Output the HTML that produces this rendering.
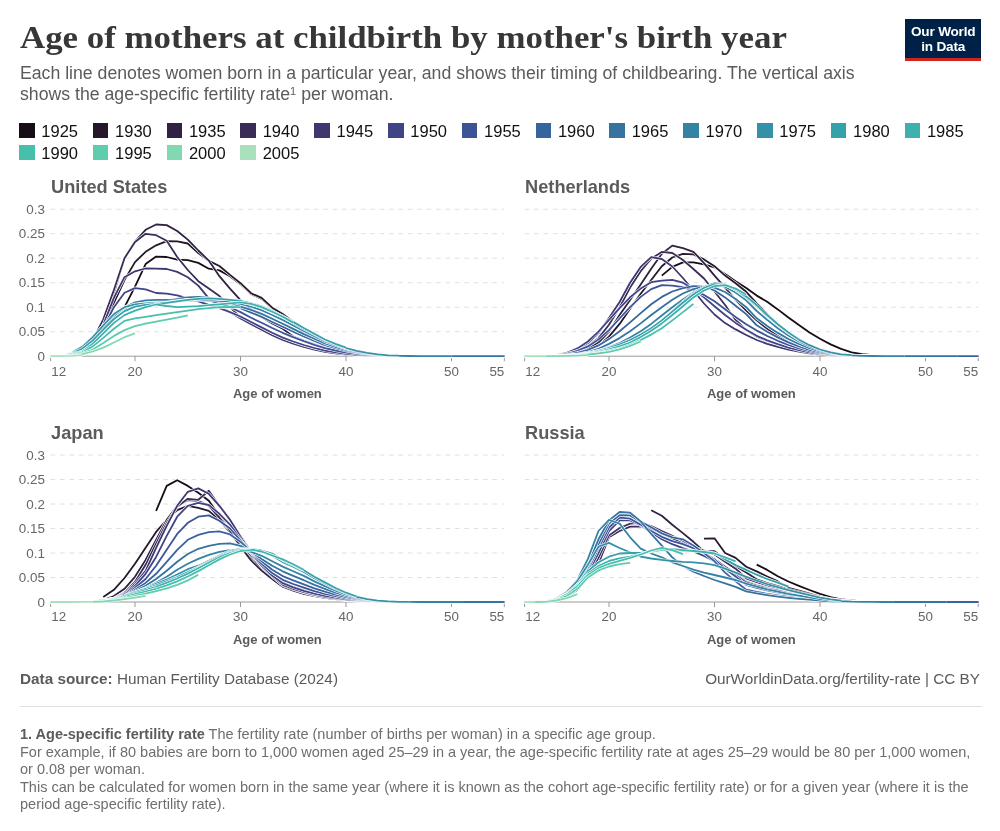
<!DOCTYPE html>
<html><head><meta charset="utf-8"><title>Age of mothers at childbirth by mother's birth year</title>
<style>
html,body{margin:0;padding:0;background:#fff;}
body{width:1000px;height:831px;position:relative;overflow:hidden;font-family:"Liberation Sans",Arial,sans-serif;}
.abs{position:absolute;white-space:nowrap;}
#title{left:20px;top:17.5px;font-family:"Liberation Serif",Georgia,serif;font-weight:bold;font-size:30.5px;line-height:40px;color:#373737;transform-origin:0 0;transform:scaleX(1.143);letter-spacing:0px}
#sub{left:20px;top:62.5px;font-size:17.68px;line-height:21.3px;color:#5b5b5b;white-space:normal;width:900px}
#sub sup{font-size:11px;line-height:0;vertical-align:baseline;position:relative;top:-5px}
#logo{left:905px;top:19.4px;width:76.4px;height:39px;background:#002147;border-bottom:3px solid #ce261e;color:#fff;font-weight:bold;font-size:13.6px;line-height:14.2px;text-align:center;letter-spacing:-0.2px}
#logo div{margin-top:6px}
.leg{font-size:16.5px;color:#111;line-height:16px}
.leg i{position:absolute;left:-22.3px;top:0.4px;width:15.6px;height:15px;display:block}
#src{left:20px;top:670px;font-size:15.3px;color:#5b5b5b;line-height:18px}
#url{right:20px;top:670px;font-size:15.3px;color:#5b5b5b;line-height:18px}
#rule{left:20px;top:706px;width:962px;height:1px;background:#e0e0e0}
#notes{left:20px;top:726.3px;font-size:14.5px;line-height:17.4px;color:#6e6e6e;white-space:normal;width:970px}
#notes b{color:#5b5b5b}
svg{position:absolute;left:0;top:0}
svg text{font-family:"Liberation Sans",Arial,sans-serif}
.ft{font-size:18.2px;font-weight:bold;fill:#5b5b5b}
.tk{font-size:13.4px;fill:#666}
.al{font-size:13px;font-weight:bold;fill:#5b5b5b}
</style></head><body>
<div class="abs" id="title">Age of mothers at childbirth by mother's birth year</div>
<div class="abs" id="sub">Each line denotes women born in a particular year, and shows their timing of childbearing. The vertical axis<br>shows the age-specific fertility rate<sup>1</sup> per woman.</div>
<div class="abs" id="logo"><div>Our World<br>in Data</div></div>
<div class="abs leg" style="left:41.3px;top:122.5px"><i style="background:#180d16"></i>1925</div>
<div class="abs leg" style="left:115.1px;top:122.5px"><i style="background:#26172b"></i>1930</div>
<div class="abs leg" style="left:188.9px;top:122.5px"><i style="background:#312142"></i>1935</div>
<div class="abs leg" style="left:262.7px;top:122.5px"><i style="background:#3a2c58"></i>1940</div>
<div class="abs leg" style="left:336.5px;top:122.5px"><i style="background:#3f3770"></i>1945</div>
<div class="abs leg" style="left:410.3px;top:122.5px"><i style="background:#414387"></i>1950</div>
<div class="abs leg" style="left:484.1px;top:122.5px"><i style="background:#3c5397"></i>1955</div>
<div class="abs leg" style="left:557.9px;top:122.5px"><i style="background:#37649e"></i>1960</div>
<div class="abs leg" style="left:631.7px;top:122.5px"><i style="background:#3573a1"></i>1965</div>
<div class="abs leg" style="left:705.5px;top:122.5px"><i style="background:#3483a5"></i>1970</div>
<div class="abs leg" style="left:779.3px;top:122.5px"><i style="background:#3491a8"></i>1975</div>
<div class="abs leg" style="left:853.1px;top:122.5px"><i style="background:#35a1ab"></i>1980</div>
<div class="abs leg" style="left:926.9px;top:122.5px"><i style="background:#3cb1ad"></i>1985</div>
<div class="abs leg" style="left:41.3px;top:144.5px"><i style="background:#47bfad"></i>1990</div>
<div class="abs leg" style="left:115.1px;top:144.5px"><i style="background:#5ecdad"></i>1995</div>
<div class="abs leg" style="left:188.9px;top:144.5px"><i style="background:#82d8b0"></i>2000</div>
<div class="abs leg" style="left:262.7px;top:144.5px"><i style="background:#a9e1bd"></i>2005</div>
<svg width="1000" height="831" viewBox="0 0 1000 831">
<text class="ft" x="51.1" y="192.8">United States</text>
<line x1="50.6" x2="504.3" y1="331.7" y2="331.7" stroke="#e0e0e0" stroke-width="1" stroke-dasharray="4.7,4.7"/>
<line x1="50.6" x2="504.3" y1="307.2" y2="307.2" stroke="#e0e0e0" stroke-width="1" stroke-dasharray="4.7,4.7"/>
<line x1="50.6" x2="504.3" y1="282.7" y2="282.7" stroke="#e0e0e0" stroke-width="1" stroke-dasharray="4.7,4.7"/>
<line x1="50.6" x2="504.3" y1="258.2" y2="258.2" stroke="#e0e0e0" stroke-width="1" stroke-dasharray="4.7,4.7"/>
<line x1="50.6" x2="504.3" y1="233.7" y2="233.7" stroke="#e0e0e0" stroke-width="1" stroke-dasharray="4.7,4.7"/>
<line x1="50.6" x2="504.3" y1="209.2" y2="209.2" stroke="#e0e0e0" stroke-width="1" stroke-dasharray="4.7,4.7"/>
<text class="tk" x="44.9" y="360.7" text-anchor="end">0</text>
<text class="tk" x="44.9" y="336.2" text-anchor="end">0.05</text>
<text class="tk" x="44.9" y="311.7" text-anchor="end">0.1</text>
<text class="tk" x="44.9" y="287.2" text-anchor="end">0.15</text>
<text class="tk" x="44.9" y="262.7" text-anchor="end">0.2</text>
<text class="tk" x="44.9" y="238.2" text-anchor="end">0.25</text>
<text class="tk" x="44.9" y="213.7" text-anchor="end">0.3</text>
<line x1="50.6" x2="504.3" y1="356.2" y2="356.2" stroke="#999" stroke-width="1"/>
<line x1="50.6" x2="50.6" y1="356.2" y2="361.2" stroke="#999" stroke-width="1"/>
<text class="tk" x="51.2" y="375.5" text-anchor="start">12</text>
<line x1="135.0" x2="135.0" y1="356.2" y2="361.2" stroke="#999" stroke-width="1"/>
<text class="tk" x="135.0" y="375.5" text-anchor="middle">20</text>
<line x1="240.5" x2="240.5" y1="356.2" y2="361.2" stroke="#999" stroke-width="1"/>
<text class="tk" x="240.5" y="375.5" text-anchor="middle">30</text>
<line x1="346.0" x2="346.0" y1="356.2" y2="361.2" stroke="#999" stroke-width="1"/>
<text class="tk" x="346.0" y="375.5" text-anchor="middle">40</text>
<line x1="451.5" x2="451.5" y1="356.2" y2="361.2" stroke="#999" stroke-width="1"/>
<text class="tk" x="451.5" y="375.5" text-anchor="middle">50</text>
<line x1="504.3" x2="504.3" y1="356.2" y2="361.2" stroke="#999" stroke-width="1"/>
<text class="tk" x="504.3" y="375.5" text-anchor="end">55</text>
<text class="al" x="277.4" y="398.2" text-anchor="middle">Age of women</text>
<path d="M124.5,307.2 L135.0,286.6 L145.6,264.1 L156.1,256.6 L166.7,257.0 L177.2,259.7 L187.8,260.2 L198.3,262.9 L208.8,268.7 L219.4,270.4 L230.0,276.3 L240.5,284.2 L251.1,294.0 L261.6,298.9 L272.2,308.2 L282.7,314.5 L293.2,321.4 L303.8,331.4 L314.4,336.5 L324.9,341.7 L335.5,345.6 L346.0,348.9 L356.6,351.4 L367.1,353.2 L377.7,354.5 L388.2,355.4 L398.8,355.8 L409.3,356.0 L419.9,356.2 L430.4,356.2 L441.0,356.2 L451.5,356.2 L462.1,356.2 L472.6,356.2 L483.2,356.2 L493.7,356.2 L504.3,356.2" fill="none" stroke="#fff" stroke-width="3" stroke-linejoin="round" stroke-linecap="butt"/>
<path d="M124.5,307.2 L135.0,286.6 L145.6,264.1 L156.1,256.6 L166.7,257.0 L177.2,259.7 L187.8,260.2 L198.3,262.9 L208.8,268.7 L219.4,270.4 L230.0,276.3 L240.5,284.2 L251.1,294.0 L261.6,298.9 L272.2,308.2 L282.7,314.5 L293.2,321.4 L303.8,331.4 L314.4,336.5 L324.9,341.7 L335.5,345.6 L346.0,348.9 L356.6,351.4 L367.1,353.2 L377.7,354.5 L388.2,355.4 L398.8,355.8 L409.3,356.0 L419.9,356.2 L430.4,356.2 L441.0,356.2 L451.5,356.2 L462.1,356.2 L472.6,356.2 L483.2,356.2 L493.7,356.2 L504.3,356.2" fill="none" stroke="#180d16" stroke-width="1.8" stroke-linejoin="round" stroke-linecap="butt"/>
<path d="M71.7,355.2 L82.2,351.8 L92.8,343.0 L103.3,326.8 L113.9,303.0 L124.5,280.0 L135.0,262.1 L145.6,251.8 L156.1,245.3 L166.7,241.1 L177.2,241.4 L187.8,243.5 L198.3,253.1 L208.8,260.9 L219.4,266.0 L230.0,274.9 L240.5,283.2 L251.1,293.2 L261.6,297.9 L272.2,307.7 L282.7,314.1 L293.2,321.7 L303.8,333.3 L314.4,338.1 L324.9,343.0 L335.5,346.6 L346.0,349.6 L356.6,351.9 L367.1,353.5 L377.7,354.7 L388.2,355.5 L398.8,355.8 L409.3,356.1 L419.9,356.2 L430.4,356.2 L441.0,356.2 L451.5,356.2 L462.1,356.2 L472.6,356.2 L483.2,356.2 L493.7,356.2 L504.3,356.2" fill="none" stroke="#fff" stroke-width="3" stroke-linejoin="round" stroke-linecap="butt"/>
<path d="M71.7,355.2 L82.2,351.8 L92.8,343.0 L103.3,326.8 L113.9,303.0 L124.5,280.0 L135.0,262.1 L145.6,251.8 L156.1,245.3 L166.7,241.1 L177.2,241.4 L187.8,243.5 L198.3,253.1 L208.8,260.9 L219.4,266.0 L230.0,274.9 L240.5,283.2 L251.1,293.2 L261.6,297.9 L272.2,307.7 L282.7,314.1 L293.2,321.7 L303.8,333.3 L314.4,338.1 L324.9,343.0 L335.5,346.6 L346.0,349.6 L356.6,351.9 L367.1,353.5 L377.7,354.7 L388.2,355.5 L398.8,355.8 L409.3,356.1 L419.9,356.2 L430.4,356.2 L441.0,356.2 L451.5,356.2 L462.1,356.2 L472.6,356.2 L483.2,356.2 L493.7,356.2 L504.3,356.2" fill="none" stroke="#26172b" stroke-width="1.8" stroke-linejoin="round" stroke-linecap="butt"/>
<path d="M50.6,356.2 L61.2,356.0 L71.7,354.7 L82.2,351.0 L92.8,340.5 L103.3,320.9 L113.9,293.0 L124.5,258.2 L135.0,241.5 L145.6,229.8 L156.1,224.5 L166.7,225.1 L177.2,231.0 L187.8,239.6 L198.3,250.5 L208.8,260.6 L219.4,276.2 L230.0,288.6 L240.5,300.2 L251.1,309.6 L261.6,317.0 L272.2,323.4 L282.7,328.8 L293.2,336.5 L303.8,340.7 L314.4,344.4 L324.9,347.7 L335.5,350.2 L346.0,352.3 L356.6,353.7 L367.1,354.7 L377.7,355.4 L388.2,355.8 L398.8,356.0 L409.3,356.1 L419.9,356.2 L430.4,356.2 L441.0,356.2 L451.5,356.2 L462.1,356.2 L472.6,356.2 L483.2,356.2 L493.7,356.2 L504.3,356.2" fill="none" stroke="#fff" stroke-width="3" stroke-linejoin="round" stroke-linecap="butt"/>
<path d="M50.6,356.2 L61.2,356.0 L71.7,354.7 L82.2,351.0 L92.8,340.5 L103.3,320.9 L113.9,293.0 L124.5,258.2 L135.0,241.5 L145.6,229.8 L156.1,224.5 L166.7,225.1 L177.2,231.0 L187.8,239.6 L198.3,250.5 L208.8,260.6 L219.4,276.2 L230.0,288.6 L240.5,300.2 L251.1,309.6 L261.6,317.0 L272.2,323.4 L282.7,328.8 L293.2,336.5 L303.8,340.7 L314.4,344.4 L324.9,347.7 L335.5,350.2 L346.0,352.3 L356.6,353.7 L367.1,354.7 L377.7,355.4 L388.2,355.8 L398.8,356.0 L409.3,356.1 L419.9,356.2 L430.4,356.2 L441.0,356.2 L451.5,356.2 L462.1,356.2 L472.6,356.2 L483.2,356.2 L493.7,356.2 L504.3,356.2" fill="none" stroke="#312142" stroke-width="1.8" stroke-linejoin="round" stroke-linecap="butt"/>
<path d="M50.6,356.2 L61.2,356.0 L71.7,354.7 L82.2,350.8 L92.8,340.0 L103.3,319.4 L113.9,290.0 L124.5,258.2 L135.0,242.0 L145.6,233.8 L156.1,235.2 L166.7,240.8 L177.2,257.0 L187.8,270.0 L198.3,281.2 L208.8,288.6 L219.4,296.0 L230.0,307.2 L240.5,317.6 L251.1,323.4 L261.6,328.8 L272.2,333.7 L282.7,337.6 L293.2,341.5 L303.8,345.0 L314.4,348.0 L324.9,350.6 L335.5,352.3 L346.0,353.9 L356.6,354.8 L367.1,355.4 L377.7,355.8 L388.2,356.0 L398.8,356.2 L409.3,356.2 L419.9,356.2 L430.4,356.2 L441.0,356.2 L451.5,356.2 L462.1,356.2 L472.6,356.2 L483.2,356.2 L493.7,356.2 L504.3,356.2" fill="none" stroke="#fff" stroke-width="3" stroke-linejoin="round" stroke-linecap="butt"/>
<path d="M50.6,356.2 L61.2,356.0 L71.7,354.7 L82.2,350.8 L92.8,340.0 L103.3,319.4 L113.9,290.0 L124.5,258.2 L135.0,242.0 L145.6,233.8 L156.1,235.2 L166.7,240.8 L177.2,257.0 L187.8,270.0 L198.3,281.2 L208.8,288.6 L219.4,296.0 L230.0,307.2 L240.5,317.6 L251.1,323.4 L261.6,328.8 L272.2,333.7 L282.7,337.6 L293.2,341.5 L303.8,345.0 L314.4,348.0 L324.9,350.6 L335.5,352.3 L346.0,353.9 L356.6,354.8 L367.1,355.4 L377.7,355.8 L388.2,356.0 L398.8,356.2 L409.3,356.2 L419.9,356.2 L430.4,356.2 L441.0,356.2 L451.5,356.2 L462.1,356.2 L472.6,356.2 L483.2,356.2 L493.7,356.2 L504.3,356.2" fill="none" stroke="#3a2c58" stroke-width="1.8" stroke-linejoin="round" stroke-linecap="butt"/>
<path d="M50.6,356.2 L61.2,356.0 L71.7,354.7 L82.2,351.3 L92.8,342.5 L103.3,324.8 L113.9,297.9 L124.5,277.2 L135.0,271.3 L145.6,268.5 L156.1,268.7 L166.7,269.0 L177.2,271.9 L187.8,277.2 L198.3,285.6 L208.8,298.4 L219.4,306.2 L230.0,312.1 L240.5,318.5 L251.1,324.1 L261.6,329.7 L272.2,335.2 L282.7,340.0 L293.2,343.7 L303.8,346.9 L314.4,349.6 L324.9,351.8 L335.5,353.3 L346.0,354.6 L356.6,355.2 L367.1,355.7 L377.7,356.0 L388.2,356.1 L398.8,356.2 L409.3,356.2 L419.9,356.2 L430.4,356.2 L441.0,356.2 L451.5,356.2 L462.1,356.2 L472.6,356.2 L483.2,356.2 L493.7,356.2 L504.3,356.2" fill="none" stroke="#fff" stroke-width="3" stroke-linejoin="round" stroke-linecap="butt"/>
<path d="M50.6,356.2 L61.2,356.0 L71.7,354.7 L82.2,351.3 L92.8,342.5 L103.3,324.8 L113.9,297.9 L124.5,277.2 L135.0,271.3 L145.6,268.5 L156.1,268.7 L166.7,269.0 L177.2,271.9 L187.8,277.2 L198.3,285.6 L208.8,298.4 L219.4,306.2 L230.0,312.1 L240.5,318.5 L251.1,324.1 L261.6,329.7 L272.2,335.2 L282.7,340.0 L293.2,343.7 L303.8,346.9 L314.4,349.6 L324.9,351.8 L335.5,353.3 L346.0,354.6 L356.6,355.2 L367.1,355.7 L377.7,356.0 L388.2,356.1 L398.8,356.2 L409.3,356.2 L419.9,356.2 L430.4,356.2 L441.0,356.2 L451.5,356.2 L462.1,356.2 L472.6,356.2 L483.2,356.2 L493.7,356.2 L504.3,356.2" fill="none" stroke="#3f3770" stroke-width="1.8" stroke-linejoin="round" stroke-linecap="butt"/>
<path d="M50.6,356.2 L61.2,356.0 L71.7,354.7 L82.2,351.3 L92.8,343.0 L103.3,328.0 L113.9,307.2 L124.5,292.7 L135.0,288.1 L145.6,289.4 L156.1,293.0 L166.7,293.6 L177.2,295.4 L187.8,298.4 L198.3,301.3 L208.8,304.8 L219.4,308.2 L230.0,312.1 L240.5,316.5 L251.1,322.0 L261.6,327.4 L272.2,332.8 L282.7,337.6 L293.2,341.5 L303.8,345.0 L314.4,348.0 L324.9,350.6 L335.5,352.3 L346.0,353.9 L356.6,354.8 L367.1,355.4 L377.7,355.8 L388.2,356.0 L398.8,356.2 L409.3,356.2 L419.9,356.2 L430.4,356.2 L441.0,356.2 L451.5,356.2 L462.1,356.2 L472.6,356.2 L483.2,356.2 L493.7,356.2 L504.3,356.2" fill="none" stroke="#fff" stroke-width="3" stroke-linejoin="round" stroke-linecap="butt"/>
<path d="M50.6,356.2 L61.2,356.0 L71.7,354.7 L82.2,351.3 L92.8,343.0 L103.3,328.0 L113.9,307.2 L124.5,292.7 L135.0,288.1 L145.6,289.4 L156.1,293.0 L166.7,293.6 L177.2,295.4 L187.8,298.4 L198.3,301.3 L208.8,304.8 L219.4,308.2 L230.0,312.1 L240.5,316.5 L251.1,322.0 L261.6,327.4 L272.2,332.8 L282.7,337.6 L293.2,341.5 L303.8,345.0 L314.4,348.0 L324.9,350.6 L335.5,352.3 L346.0,353.9 L356.6,354.8 L367.1,355.4 L377.7,355.8 L388.2,356.0 L398.8,356.2 L409.3,356.2 L419.9,356.2 L430.4,356.2 L441.0,356.2 L451.5,356.2 L462.1,356.2 L472.6,356.2 L483.2,356.2 L493.7,356.2 L504.3,356.2" fill="none" stroke="#414387" stroke-width="1.8" stroke-linejoin="round" stroke-linecap="butt"/>
<path d="M50.6,356.2 L61.2,356.0 L71.7,353.3 L82.2,347.9 L92.8,337.6 L103.3,325.8 L113.9,314.1 L124.5,307.2 L135.0,303.8 L145.6,301.8 L156.1,300.8 L166.7,300.3 L177.2,299.4 L187.8,298.4 L198.3,298.9 L208.8,300.3 L219.4,303.3 L230.0,307.2 L240.5,312.1 L251.1,317.8 L261.6,322.7 L272.2,328.0 L282.7,332.8 L293.2,337.2 L303.8,341.2 L314.4,344.8 L324.9,348.1 L335.5,350.5 L346.0,352.5 L356.6,353.8 L367.1,354.8 L377.7,355.4 L388.2,355.8 L398.8,356.1 L409.3,356.1 L419.9,356.2 L430.4,356.2 L441.0,356.2 L451.5,356.2 L462.1,356.2 L472.6,356.2 L483.2,356.2 L493.7,356.2 L504.3,356.2" fill="none" stroke="#fff" stroke-width="3" stroke-linejoin="round" stroke-linecap="butt"/>
<path d="M50.6,356.2 L61.2,356.0 L71.7,353.3 L82.2,347.9 L92.8,337.6 L103.3,325.8 L113.9,314.1 L124.5,307.2 L135.0,303.8 L145.6,301.8 L156.1,300.8 L166.7,300.3 L177.2,299.4 L187.8,298.4 L198.3,298.9 L208.8,300.3 L219.4,303.3 L230.0,307.2 L240.5,312.1 L251.1,317.8 L261.6,322.7 L272.2,328.0 L282.7,332.8 L293.2,337.2 L303.8,341.2 L314.4,344.8 L324.9,348.1 L335.5,350.5 L346.0,352.5 L356.6,353.8 L367.1,354.8 L377.7,355.4 L388.2,355.8 L398.8,356.1 L409.3,356.1 L419.9,356.2 L430.4,356.2 L441.0,356.2 L451.5,356.2 L462.1,356.2 L472.6,356.2 L483.2,356.2 L493.7,356.2 L504.3,356.2" fill="none" stroke="#3c5397" stroke-width="1.8" stroke-linejoin="round" stroke-linecap="butt"/>
<path d="M50.6,356.2 L61.2,356.0 L71.7,353.3 L82.2,348.4 L92.8,339.5 L103.3,328.3 L113.9,317.0 L124.5,309.2 L135.0,304.3 L145.6,302.3 L156.1,301.3 L166.7,300.8 L177.2,300.3 L187.8,299.4 L198.3,299.4 L208.8,299.8 L219.4,301.3 L230.0,303.8 L240.5,308.2 L251.1,312.6 L261.6,316.9 L272.2,322.0 L282.7,326.8 L293.2,331.7 L303.8,336.5 L314.4,340.8 L324.9,345.1 L335.5,348.1 L346.0,350.8 L356.6,352.7 L367.1,354.0 L377.7,355.0 L388.2,355.6 L398.8,355.9 L409.3,356.1 L419.9,356.2 L430.4,356.2 L441.0,356.2 L451.5,356.2 L462.1,356.2 L472.6,356.2 L483.2,356.2 L493.7,356.2 L504.3,356.2" fill="none" stroke="#fff" stroke-width="3" stroke-linejoin="round" stroke-linecap="butt"/>
<path d="M50.6,356.2 L61.2,356.0 L71.7,353.3 L82.2,348.4 L92.8,339.5 L103.3,328.3 L113.9,317.0 L124.5,309.2 L135.0,304.3 L145.6,302.3 L156.1,301.3 L166.7,300.8 L177.2,300.3 L187.8,299.4 L198.3,299.4 L208.8,299.8 L219.4,301.3 L230.0,303.8 L240.5,308.2 L251.1,312.6 L261.6,316.9 L272.2,322.0 L282.7,326.8 L293.2,331.7 L303.8,336.5 L314.4,340.8 L324.9,345.1 L335.5,348.1 L346.0,350.8 L356.6,352.7 L367.1,354.0 L377.7,355.0 L388.2,355.6 L398.8,355.9 L409.3,356.1 L419.9,356.2 L430.4,356.2 L441.0,356.2 L451.5,356.2 L462.1,356.2 L472.6,356.2 L483.2,356.2 L493.7,356.2 L504.3,356.2" fill="none" stroke="#37649e" stroke-width="1.8" stroke-linejoin="round" stroke-linecap="butt"/>
<path d="M50.6,356.2 L61.2,356.0 L71.7,353.3 L82.2,348.8 L92.8,340.5 L103.3,330.2 L113.9,319.4 L124.5,311.1 L135.0,306.2 L145.6,303.3 L156.1,301.8 L166.7,300.3 L177.2,298.9 L187.8,297.4 L198.3,296.9 L208.8,297.9 L219.4,299.8 L230.0,302.8 L240.5,306.7 L251.1,309.9 L261.6,313.9 L272.2,318.8 L282.7,323.7 L293.2,328.9 L303.8,334.1 L314.4,338.8 L324.9,343.5 L335.5,346.9 L346.0,349.9 L356.6,352.1 L367.1,353.6 L377.7,354.8 L388.2,355.5 L398.8,355.9 L409.3,356.1 L419.9,356.2 L430.4,356.2 L441.0,356.2 L451.5,356.2 L462.1,356.2 L472.6,356.2 L483.2,356.2 L493.7,356.2 L504.3,356.2" fill="none" stroke="#fff" stroke-width="3" stroke-linejoin="round" stroke-linecap="butt"/>
<path d="M50.6,356.2 L61.2,356.0 L71.7,353.3 L82.2,348.8 L92.8,340.5 L103.3,330.2 L113.9,319.4 L124.5,311.1 L135.0,306.2 L145.6,303.3 L156.1,301.8 L166.7,300.3 L177.2,298.9 L187.8,297.4 L198.3,296.9 L208.8,297.9 L219.4,299.8 L230.0,302.8 L240.5,306.7 L251.1,309.9 L261.6,313.9 L272.2,318.8 L282.7,323.7 L293.2,328.9 L303.8,334.1 L314.4,338.8 L324.9,343.5 L335.5,346.9 L346.0,349.9 L356.6,352.1 L367.1,353.6 L377.7,354.8 L388.2,355.5 L398.8,355.9 L409.3,356.1 L419.9,356.2 L430.4,356.2 L441.0,356.2 L451.5,356.2 L462.1,356.2 L472.6,356.2 L483.2,356.2 L493.7,356.2 L504.3,356.2" fill="none" stroke="#3573a1" stroke-width="1.8" stroke-linejoin="round" stroke-linecap="butt"/>
<path d="M50.6,356.2 L61.2,356.0 L71.7,352.8 L82.2,347.9 L92.8,339.1 L103.3,327.8 L113.9,316.0 L124.5,307.2 L135.0,302.3 L145.6,300.3 L156.1,299.8 L166.7,299.8 L177.2,300.3 L187.8,300.3 L198.3,300.3 L208.8,300.3 L219.4,300.8 L230.0,301.8 L240.5,303.8 L251.1,306.6 L261.6,310.1 L272.2,315.0 L282.7,319.9 L293.2,325.4 L303.8,331.0 L314.4,336.2 L324.9,341.5 L335.5,345.4 L346.0,348.7 L356.6,351.3 L367.1,353.2 L377.7,354.5 L388.2,355.4 L398.8,355.8 L409.3,356.0 L419.9,356.2 L430.4,356.2 L441.0,356.2 L451.5,356.2" fill="none" stroke="#fff" stroke-width="3" stroke-linejoin="round" stroke-linecap="butt"/>
<path d="M50.6,356.2 L61.2,356.0 L71.7,352.8 L82.2,347.9 L92.8,339.1 L103.3,327.8 L113.9,316.0 L124.5,307.2 L135.0,302.3 L145.6,300.3 L156.1,299.8 L166.7,299.8 L177.2,300.3 L187.8,300.3 L198.3,300.3 L208.8,300.3 L219.4,300.8 L230.0,301.8 L240.5,303.8 L251.1,306.6 L261.6,310.1 L272.2,315.0 L282.7,319.9 L293.2,325.4 L303.8,331.0 L314.4,336.2 L324.9,341.5 L335.5,345.4 L346.0,348.7 L356.6,351.3 L367.1,353.2 L377.7,354.5 L388.2,355.4 L398.8,355.8 L409.3,356.0 L419.9,356.2 L430.4,356.2 L441.0,356.2 L451.5,356.2" fill="none" stroke="#3483a5" stroke-width="1.8" stroke-linejoin="round" stroke-linecap="butt"/>
<path d="M50.6,356.2 L61.2,356.0 L71.7,352.8 L82.2,346.9 L92.8,337.1 L103.3,325.3 L113.9,314.1 L124.5,307.2 L135.0,304.3 L145.6,303.3 L156.1,302.8 L166.7,302.3 L177.2,301.3 L187.8,299.8 L198.3,298.9 L208.8,298.4 L219.4,298.9 L230.0,299.8 L240.5,301.8 L251.1,304.3 L261.6,307.6 L272.2,312.3 L282.7,317.2 L293.2,323.0 L303.8,329.0 L314.4,334.5 L324.9,340.2 L335.5,344.4 L346.0,348.0 L356.6,350.8 L367.1,352.8 L377.7,354.3 L388.2,355.3 L398.8,355.7" fill="none" stroke="#fff" stroke-width="3" stroke-linejoin="round" stroke-linecap="butt"/>
<path d="M50.6,356.2 L61.2,356.0 L71.7,352.8 L82.2,346.9 L92.8,337.1 L103.3,325.3 L113.9,314.1 L124.5,307.2 L135.0,304.3 L145.6,303.3 L156.1,302.8 L166.7,302.3 L177.2,301.3 L187.8,299.8 L198.3,298.9 L208.8,298.4 L219.4,298.9 L230.0,299.8 L240.5,301.8 L251.1,304.3 L261.6,307.6 L272.2,312.3 L282.7,317.2 L293.2,323.0 L303.8,329.0 L314.4,334.5 L324.9,340.2 L335.5,344.4 L346.0,348.0 L356.6,350.8 L367.1,352.8 L377.7,354.3 L388.2,355.3 L398.8,355.7" fill="none" stroke="#3491a8" stroke-width="1.8" stroke-linejoin="round" stroke-linecap="butt"/>
<path d="M50.6,356.2 L61.2,356.0 L71.7,353.3 L82.2,348.8 L92.8,340.5 L103.3,329.7 L113.9,319.0 L124.5,311.1 L135.0,306.7 L145.6,304.8 L156.1,303.8 L166.7,302.8 L177.2,301.3 L187.8,299.8 L198.3,298.9 L208.8,298.4 L219.4,298.9 L230.0,299.8 L240.5,300.8 L251.1,303.3 L261.6,306.4 L272.2,311.1 L282.7,316.0 L293.2,321.9 L303.8,328.0 L314.4,333.7 L324.9,339.5 L335.5,343.9 L346.0,347.6" fill="none" stroke="#fff" stroke-width="3" stroke-linejoin="round" stroke-linecap="butt"/>
<path d="M50.6,356.2 L61.2,356.0 L71.7,353.3 L82.2,348.8 L92.8,340.5 L103.3,329.7 L113.9,319.0 L124.5,311.1 L135.0,306.7 L145.6,304.8 L156.1,303.8 L166.7,302.8 L177.2,301.3 L187.8,299.8 L198.3,298.9 L208.8,298.4 L219.4,298.9 L230.0,299.8 L240.5,300.8 L251.1,303.3 L261.6,306.4 L272.2,311.1 L282.7,316.0 L293.2,321.9 L303.8,328.0 L314.4,333.7 L324.9,339.5 L335.5,343.9 L346.0,347.6" fill="none" stroke="#35a1ab" stroke-width="1.8" stroke-linejoin="round" stroke-linecap="butt"/>
<path d="M50.6,356.2 L61.2,356.0 L71.7,353.8 L82.2,351.5 L92.8,343.7 L103.3,333.3 L113.9,322.9 L124.5,315.1 L135.0,310.6 L145.6,307.1 L156.1,304.5 L166.7,306.0 L177.2,307.1 L187.8,306.7 L198.3,306.2 L208.8,305.2 L219.4,304.3 L230.0,303.3 L240.5,302.3 L251.1,303.9 L261.6,307.1 L272.2,311.8 L282.7,316.7 L293.2,322.6" fill="none" stroke="#fff" stroke-width="3" stroke-linejoin="round" stroke-linecap="butt"/>
<path d="M50.6,356.2 L61.2,356.0 L71.7,353.8 L82.2,351.5 L92.8,343.7 L103.3,333.3 L113.9,322.9 L124.5,315.1 L135.0,310.6 L145.6,307.1 L156.1,304.5 L166.7,306.0 L177.2,307.1 L187.8,306.7 L198.3,306.2 L208.8,305.2 L219.4,304.3 L230.0,303.3 L240.5,302.3 L251.1,303.9 L261.6,307.1 L272.2,311.8 L282.7,316.7 L293.2,322.6" fill="none" stroke="#3cb1ad" stroke-width="1.8" stroke-linejoin="round" stroke-linecap="butt"/>
<path d="M50.6,356.2 L61.2,356.0 L71.7,354.7 L82.2,352.3 L92.8,346.4 L103.3,337.9 L113.9,328.8 L124.5,320.9 L135.0,318.4 L145.6,316.8 L156.1,315.1 L166.7,313.6 L177.2,312.1 L187.8,310.6 L198.3,309.2 L208.8,308.2 L219.4,307.2 L230.0,307.0 L240.5,307.2" fill="none" stroke="#fff" stroke-width="3" stroke-linejoin="round" stroke-linecap="butt"/>
<path d="M50.6,356.2 L61.2,356.0 L71.7,354.7 L82.2,352.3 L92.8,346.4 L103.3,337.9 L113.9,328.8 L124.5,320.9 L135.0,318.4 L145.6,316.8 L156.1,315.1 L166.7,313.6 L177.2,312.1 L187.8,310.6 L198.3,309.2 L208.8,308.2 L219.4,307.2 L230.0,307.0 L240.5,307.2" fill="none" stroke="#47bfad" stroke-width="1.8" stroke-linejoin="round" stroke-linecap="butt"/>
<path d="M50.6,356.2 L61.2,356.1 L71.7,355.2 L82.2,353.5 L92.8,349.6 L103.3,343.1 L113.9,335.9 L124.5,330.1 L135.0,326.2 L145.6,323.6 L156.1,321.6 L166.7,319.6 L177.2,317.7 L187.8,315.4" fill="none" stroke="#fff" stroke-width="3" stroke-linejoin="round" stroke-linecap="butt"/>
<path d="M50.6,356.2 L61.2,356.1 L71.7,355.2 L82.2,353.5 L92.8,349.6 L103.3,343.1 L113.9,335.9 L124.5,330.1 L135.0,326.2 L145.6,323.6 L156.1,321.6 L166.7,319.6 L177.2,317.7 L187.8,315.4" fill="none" stroke="#5ecdad" stroke-width="1.8" stroke-linejoin="round" stroke-linecap="butt"/>
<path d="M50.6,356.2 L61.2,356.1 L71.7,355.7 L82.2,354.2 L92.8,351.5 L103.3,347.6 L113.9,342.5 L124.5,337.2 L135.0,333.3" fill="none" stroke="#fff" stroke-width="3" stroke-linejoin="round" stroke-linecap="butt"/>
<path d="M50.6,356.2 L61.2,356.1 L71.7,355.7 L82.2,354.2 L92.8,351.5 L103.3,347.6 L113.9,342.5 L124.5,337.2 L135.0,333.3" fill="none" stroke="#82d8b0" stroke-width="1.8" stroke-linejoin="round" stroke-linecap="butt"/>
<path d="M50.6,356.2 L61.2,356.2 L71.7,355.9 L82.2,355.2" fill="none" stroke="#fff" stroke-width="3" stroke-linejoin="round" stroke-linecap="butt"/>
<path d="M50.6,356.2 L61.2,356.2 L71.7,355.9 L82.2,355.2" fill="none" stroke="#a9e1bd" stroke-width="1.8" stroke-linejoin="round" stroke-linecap="butt"/>
<text class="ft" x="525.1" y="192.8">Netherlands</text>
<line x1="524.6" x2="978.2" y1="331.7" y2="331.7" stroke="#e0e0e0" stroke-width="1" stroke-dasharray="4.7,4.7"/>
<line x1="524.6" x2="978.2" y1="307.2" y2="307.2" stroke="#e0e0e0" stroke-width="1" stroke-dasharray="4.7,4.7"/>
<line x1="524.6" x2="978.2" y1="282.7" y2="282.7" stroke="#e0e0e0" stroke-width="1" stroke-dasharray="4.7,4.7"/>
<line x1="524.6" x2="978.2" y1="258.2" y2="258.2" stroke="#e0e0e0" stroke-width="1" stroke-dasharray="4.7,4.7"/>
<line x1="524.6" x2="978.2" y1="233.7" y2="233.7" stroke="#e0e0e0" stroke-width="1" stroke-dasharray="4.7,4.7"/>
<line x1="524.6" x2="978.2" y1="209.2" y2="209.2" stroke="#e0e0e0" stroke-width="1" stroke-dasharray="4.7,4.7"/>
<line x1="524.6" x2="978.2" y1="356.2" y2="356.2" stroke="#999" stroke-width="1"/>
<line x1="524.6" x2="524.6" y1="356.2" y2="361.2" stroke="#999" stroke-width="1"/>
<text class="tk" x="525.2" y="375.5" text-anchor="start">12</text>
<line x1="609.0" x2="609.0" y1="356.2" y2="361.2" stroke="#999" stroke-width="1"/>
<text class="tk" x="609.0" y="375.5" text-anchor="middle">20</text>
<line x1="714.5" x2="714.5" y1="356.2" y2="361.2" stroke="#999" stroke-width="1"/>
<text class="tk" x="714.5" y="375.5" text-anchor="middle">30</text>
<line x1="820.0" x2="820.0" y1="356.2" y2="361.2" stroke="#999" stroke-width="1"/>
<text class="tk" x="820.0" y="375.5" text-anchor="middle">40</text>
<line x1="925.5" x2="925.5" y1="356.2" y2="361.2" stroke="#999" stroke-width="1"/>
<text class="tk" x="925.5" y="375.5" text-anchor="middle">50</text>
<line x1="978.2" x2="978.2" y1="356.2" y2="361.2" stroke="#999" stroke-width="1"/>
<text class="tk" x="978.2" y="375.5" text-anchor="end">55</text>
<text class="al" x="751.4" y="398.2" text-anchor="middle">Age of women</text>
<path d="M661.8,275.6 L672.3,266.9 L682.9,262.3 L693.4,262.3 L704.0,264.4 L714.5,267.3 L725.1,273.9 L735.6,281.2 L746.2,288.1 L756.7,295.6 L767.2,301.8 L777.8,309.4 L788.4,317.5 L798.9,325.0 L809.5,332.5 L820.0,338.8 L830.6,344.4 L841.1,348.8 L851.7,352.3 L862.2,354.2 L872.8,355.2 L883.3,355.7 L893.9,356.0 L904.4,356.2 L915.0,356.2 L925.5,356.2 L936.1,356.2 L946.6,356.2 L957.2,356.2 L967.7,356.2 L978.2,356.2" fill="none" stroke="#fff" stroke-width="3" stroke-linejoin="round" stroke-linecap="butt"/>
<path d="M661.8,275.6 L672.3,266.9 L682.9,262.3 L693.4,262.3 L704.0,264.4 L714.5,267.3 L725.1,273.9 L735.6,281.2 L746.2,288.1 L756.7,295.6 L767.2,301.8 L777.8,309.4 L788.4,317.5 L798.9,325.0 L809.5,332.5 L820.0,338.8 L830.6,344.4 L841.1,348.8 L851.7,352.3 L862.2,354.2 L872.8,355.2 L883.3,355.7 L893.9,356.0 L904.4,356.2 L915.0,356.2 L925.5,356.2 L936.1,356.2 L946.6,356.2 L957.2,356.2 L967.7,356.2 L978.2,356.2" fill="none" stroke="#180d16" stroke-width="1.8" stroke-linejoin="round" stroke-linecap="butt"/>
<path d="M524.6,356.2 L535.1,356.1 L545.7,356.0 L556.2,356.0 L566.8,355.2 L577.4,353.8 L587.9,350.8 L598.5,345.4 L609.0,336.6 L619.6,323.9 L630.1,308.7 L640.7,293.8 L651.2,280.0 L661.8,266.2 L672.3,257.5 L682.9,253.8 L693.4,254.4 L704.0,259.4 L714.5,266.2 L725.1,275.6 L735.6,283.2 L746.2,291.8 L756.7,303.3 L767.2,314.1 L777.8,324.3 L788.4,332.5 L798.9,339.4 L809.5,345.0 L820.0,349.4 L830.6,352.3 L841.1,354.2 L851.7,355.2 L862.2,355.7 L872.8,356.0 L883.3,356.2 L893.9,356.2 L904.4,356.2 L915.0,356.2 L925.5,356.2 L936.1,356.2 L946.6,356.2 L957.2,356.2 L967.7,356.2 L978.2,356.2" fill="none" stroke="#fff" stroke-width="3" stroke-linejoin="round" stroke-linecap="butt"/>
<path d="M524.6,356.2 L535.1,356.1 L545.7,356.0 L556.2,356.0 L566.8,355.2 L577.4,353.8 L587.9,350.8 L598.5,345.4 L609.0,336.6 L619.6,323.9 L630.1,308.7 L640.7,293.8 L651.2,280.0 L661.8,266.2 L672.3,257.5 L682.9,253.8 L693.4,254.4 L704.0,259.4 L714.5,266.2 L725.1,275.6 L735.6,283.2 L746.2,291.8 L756.7,303.3 L767.2,314.1 L777.8,324.3 L788.4,332.5 L798.9,339.4 L809.5,345.0 L820.0,349.4 L830.6,352.3 L841.1,354.2 L851.7,355.2 L862.2,355.7 L872.8,356.0 L883.3,356.2 L893.9,356.2 L904.4,356.2 L915.0,356.2 L925.5,356.2 L936.1,356.2 L946.6,356.2 L957.2,356.2 L967.7,356.2 L978.2,356.2" fill="none" stroke="#26172b" stroke-width="1.8" stroke-linejoin="round" stroke-linecap="butt"/>
<path d="M524.6,356.2 L535.1,356.1 L545.7,356.0 L556.2,355.9 L566.8,354.7 L577.4,352.8 L587.9,348.8 L598.5,342.5 L609.0,331.7 L619.6,315.0 L630.1,300.0 L640.7,284.4 L651.2,268.7 L661.8,253.8 L672.3,245.6 L682.9,248.2 L693.4,251.8 L704.0,263.1 L714.5,275.6 L725.1,287.6 L735.6,299.8 L746.2,310.6 L756.7,320.4 L767.2,328.8 L777.8,336.1 L788.4,342.0 L798.9,346.4 L809.5,349.8 L820.0,352.3 L830.6,354.2 L841.1,355.2 L851.7,355.7 L862.2,355.9 L872.8,356.1 L883.3,356.2 L893.9,356.2 L904.4,356.2 L915.0,356.2 L925.5,356.2 L936.1,356.2 L946.6,356.2 L957.2,356.2 L967.7,356.2 L978.2,356.2" fill="none" stroke="#fff" stroke-width="3" stroke-linejoin="round" stroke-linecap="butt"/>
<path d="M524.6,356.2 L535.1,356.1 L545.7,356.0 L556.2,355.9 L566.8,354.7 L577.4,352.8 L587.9,348.8 L598.5,342.5 L609.0,331.7 L619.6,315.0 L630.1,300.0 L640.7,284.4 L651.2,268.7 L661.8,253.8 L672.3,245.6 L682.9,248.2 L693.4,251.8 L704.0,263.1 L714.5,275.6 L725.1,287.6 L735.6,299.8 L746.2,310.6 L756.7,320.4 L767.2,328.8 L777.8,336.1 L788.4,342.0 L798.9,346.4 L809.5,349.8 L820.0,352.3 L830.6,354.2 L841.1,355.2 L851.7,355.7 L862.2,355.9 L872.8,356.1 L883.3,356.2 L893.9,356.2 L904.4,356.2 L915.0,356.2 L925.5,356.2 L936.1,356.2 L946.6,356.2 L957.2,356.2 L967.7,356.2 L978.2,356.2" fill="none" stroke="#312142" stroke-width="1.8" stroke-linejoin="round" stroke-linecap="butt"/>
<path d="M524.6,356.2 L535.1,356.0 L545.7,355.9 L556.2,355.7 L566.8,354.2 L577.4,351.0 L587.9,345.9 L598.5,338.1 L609.0,324.8 L619.6,307.2 L630.1,287.6 L640.7,271.2 L651.2,258.7 L661.8,251.9 L672.3,253.0 L682.9,260.0 L693.4,269.0 L704.0,278.5 L714.5,291.5 L725.1,305.0 L735.6,319.9 L746.2,330.0 L756.7,336.6 L767.2,340.9 L777.8,344.6 L788.4,347.9 L798.9,350.4 L809.5,352.5 L820.0,354.1 L830.6,355.0 L841.1,355.6 L851.7,355.9 L862.2,356.1 L872.8,356.2 L883.3,356.2 L893.9,356.2 L904.4,356.2 L915.0,356.2 L925.5,356.2 L936.1,356.2 L946.6,356.2 L957.2,356.2 L967.7,356.2 L978.2,356.2" fill="none" stroke="#fff" stroke-width="3" stroke-linejoin="round" stroke-linecap="butt"/>
<path d="M524.6,356.2 L535.1,356.0 L545.7,355.9 L556.2,355.7 L566.8,354.2 L577.4,351.0 L587.9,345.9 L598.5,338.1 L609.0,324.8 L619.6,307.2 L630.1,287.6 L640.7,271.2 L651.2,258.7 L661.8,251.9 L672.3,253.0 L682.9,260.0 L693.4,269.0 L704.0,278.5 L714.5,291.5 L725.1,305.0 L735.6,319.9 L746.2,330.0 L756.7,336.6 L767.2,340.9 L777.8,344.6 L788.4,347.9 L798.9,350.4 L809.5,352.5 L820.0,354.1 L830.6,355.0 L841.1,355.6 L851.7,355.9 L862.2,356.1 L872.8,356.2 L883.3,356.2 L893.9,356.2 L904.4,356.2 L915.0,356.2 L925.5,356.2 L936.1,356.2 L946.6,356.2 L957.2,356.2 L967.7,356.2 L978.2,356.2" fill="none" stroke="#3a2c58" stroke-width="1.8" stroke-linejoin="round" stroke-linecap="butt"/>
<path d="M524.6,356.2 L535.1,356.0 L545.7,355.7 L556.2,355.5 L566.8,353.3 L577.4,349.0 L587.9,343.0 L598.5,333.2 L609.0,318.0 L619.6,302.0 L630.1,282.7 L640.7,266.9 L651.2,257.2 L661.8,259.0 L672.3,266.5 L682.9,278.0 L693.4,290.5 L704.0,303.5 L714.5,314.5 L725.1,323.1 L735.6,329.4 L746.2,335.0 L756.7,340.0 L767.2,343.8 L777.8,346.9 L788.4,349.6 L798.9,351.6 L809.5,353.4 L820.0,354.6 L830.6,355.3 L841.1,355.7 L851.7,356.0 L862.2,356.1 L872.8,356.2 L883.3,356.2 L893.9,356.2 L904.4,356.2 L915.0,356.2 L925.5,356.2 L936.1,356.2 L946.6,356.2 L957.2,356.2 L967.7,356.2 L978.2,356.2" fill="none" stroke="#fff" stroke-width="3" stroke-linejoin="round" stroke-linecap="butt"/>
<path d="M524.6,356.2 L535.1,356.0 L545.7,355.7 L556.2,355.5 L566.8,353.3 L577.4,349.0 L587.9,343.0 L598.5,333.2 L609.0,318.0 L619.6,302.0 L630.1,282.7 L640.7,266.9 L651.2,257.2 L661.8,259.0 L672.3,266.5 L682.9,278.0 L693.4,290.5 L704.0,303.5 L714.5,314.5 L725.1,323.1 L735.6,329.4 L746.2,335.0 L756.7,340.0 L767.2,343.8 L777.8,346.9 L788.4,349.6 L798.9,351.6 L809.5,353.4 L820.0,354.6 L830.6,355.3 L841.1,355.7 L851.7,356.0 L862.2,356.1 L872.8,356.2 L883.3,356.2 L893.9,356.2 L904.4,356.2 L915.0,356.2 L925.5,356.2 L936.1,356.2 L946.6,356.2 L957.2,356.2 L967.7,356.2 L978.2,356.2" fill="none" stroke="#3f3770" stroke-width="1.8" stroke-linejoin="round" stroke-linecap="butt"/>
<path d="M524.6,356.2 L535.1,356.1 L545.7,356.0 L556.2,355.2 L566.8,352.8 L577.4,348.4 L587.9,341.5 L598.5,331.7 L609.0,319.9 L619.6,308.2 L630.1,297.3 L640.7,288.6 L651.2,282.2 L661.8,280.7 L672.3,279.8 L682.9,282.7 L693.4,289.1 L704.0,297.4 L714.5,306.2 L725.1,315.0 L735.6,322.9 L746.2,329.7 L756.7,335.8 L767.2,340.3 L777.8,344.2 L788.4,347.6 L798.9,350.2 L809.5,352.4 L820.0,354.0 L830.6,355.0 L841.1,355.5 L851.7,355.9 L862.2,356.1 L872.8,356.2 L883.3,356.2 L893.9,356.2 L904.4,356.2 L915.0,356.2 L925.5,356.2 L936.1,356.2 L946.6,356.2 L957.2,356.2 L967.7,356.2 L978.2,356.2" fill="none" stroke="#fff" stroke-width="3" stroke-linejoin="round" stroke-linecap="butt"/>
<path d="M524.6,356.2 L535.1,356.1 L545.7,356.0 L556.2,355.2 L566.8,352.8 L577.4,348.4 L587.9,341.5 L598.5,331.7 L609.0,319.9 L619.6,308.2 L630.1,297.3 L640.7,288.6 L651.2,282.2 L661.8,280.7 L672.3,279.8 L682.9,282.7 L693.4,289.1 L704.0,297.4 L714.5,306.2 L725.1,315.0 L735.6,322.9 L746.2,329.7 L756.7,335.8 L767.2,340.3 L777.8,344.2 L788.4,347.6 L798.9,350.2 L809.5,352.4 L820.0,354.0 L830.6,355.0 L841.1,355.5 L851.7,355.9 L862.2,356.1 L872.8,356.2 L883.3,356.2 L893.9,356.2 L904.4,356.2 L915.0,356.2 L925.5,356.2 L936.1,356.2 L946.6,356.2 L957.2,356.2 L967.7,356.2 L978.2,356.2" fill="none" stroke="#414387" stroke-width="1.8" stroke-linejoin="round" stroke-linecap="butt"/>
<path d="M524.6,356.2 L535.1,356.1 L545.7,356.0 L556.2,355.5 L566.8,353.8 L577.4,350.8 L587.9,346.4 L598.5,339.5 L609.0,330.2 L619.6,318.5 L630.1,307.2 L640.7,296.9 L651.2,289.1 L661.8,285.1 L672.3,285.6 L682.9,287.1 L693.4,290.5 L704.0,294.9 L714.5,301.3 L725.1,309.2 L735.6,317.0 L746.2,324.3 L756.7,330.6 L767.2,336.0 L777.8,340.8 L788.4,345.0 L798.9,348.3 L809.5,351.1 L820.0,353.2 L830.6,354.5 L841.1,355.3 L851.7,355.8 L862.2,356.0 L872.8,356.1 L883.3,356.2 L893.9,356.2 L904.4,356.2 L915.0,356.2 L925.5,356.2 L936.1,356.2 L946.6,356.2 L957.2,356.2 L967.7,356.2 L978.2,356.2" fill="none" stroke="#fff" stroke-width="3" stroke-linejoin="round" stroke-linecap="butt"/>
<path d="M524.6,356.2 L535.1,356.1 L545.7,356.0 L556.2,355.5 L566.8,353.8 L577.4,350.8 L587.9,346.4 L598.5,339.5 L609.0,330.2 L619.6,318.5 L630.1,307.2 L640.7,296.9 L651.2,289.1 L661.8,285.1 L672.3,285.6 L682.9,287.1 L693.4,290.5 L704.0,294.9 L714.5,301.3 L725.1,309.2 L735.6,317.0 L746.2,324.3 L756.7,330.6 L767.2,336.0 L777.8,340.8 L788.4,345.0 L798.9,348.3 L809.5,351.1 L820.0,353.2 L830.6,354.5 L841.1,355.3 L851.7,355.8 L862.2,356.0 L872.8,356.1 L883.3,356.2 L893.9,356.2 L904.4,356.2 L915.0,356.2 L925.5,356.2 L936.1,356.2 L946.6,356.2 L957.2,356.2 L967.7,356.2 L978.2,356.2" fill="none" stroke="#3c5397" stroke-width="1.8" stroke-linejoin="round" stroke-linecap="butt"/>
<path d="M524.6,356.2 L535.1,356.1 L545.7,356.1 L556.2,355.7 L566.8,354.7 L577.4,352.8 L587.9,349.8 L598.5,345.4 L609.0,339.1 L619.6,331.2 L630.1,322.4 L640.7,313.1 L651.2,304.3 L661.8,296.9 L672.3,291.5 L682.9,288.1 L693.4,286.1 L704.0,286.6 L714.5,290.5 L725.1,297.4 L735.6,305.7 L746.2,314.1 L756.7,325.3 L767.2,331.7 L777.8,337.4 L788.4,342.4 L798.9,346.5 L809.5,349.8 L820.0,352.4 L830.6,354.0 L841.1,355.1 L851.7,355.6 L862.2,355.9 L872.8,356.1 L883.3,356.2 L893.9,356.2 L904.4,356.2 L915.0,356.2 L925.5,356.2 L936.1,356.2 L946.6,356.2 L957.2,356.2 L967.7,356.2 L978.2,356.2" fill="none" stroke="#fff" stroke-width="3" stroke-linejoin="round" stroke-linecap="butt"/>
<path d="M524.6,356.2 L535.1,356.1 L545.7,356.1 L556.2,355.7 L566.8,354.7 L577.4,352.8 L587.9,349.8 L598.5,345.4 L609.0,339.1 L619.6,331.2 L630.1,322.4 L640.7,313.1 L651.2,304.3 L661.8,296.9 L672.3,291.5 L682.9,288.1 L693.4,286.1 L704.0,286.6 L714.5,290.5 L725.1,297.4 L735.6,305.7 L746.2,314.1 L756.7,325.3 L767.2,331.7 L777.8,337.4 L788.4,342.4 L798.9,346.5 L809.5,349.8 L820.0,352.4 L830.6,354.0 L841.1,355.1 L851.7,355.6 L862.2,355.9 L872.8,356.1 L883.3,356.2 L893.9,356.2 L904.4,356.2 L915.0,356.2 L925.5,356.2 L936.1,356.2 L946.6,356.2 L957.2,356.2 L967.7,356.2 L978.2,356.2" fill="none" stroke="#37649e" stroke-width="1.8" stroke-linejoin="round" stroke-linecap="butt"/>
<path d="M524.6,356.2 L535.1,356.2 L545.7,356.1 L556.2,355.8 L566.8,355.2 L577.4,354.2 L587.9,352.3 L598.5,348.8 L609.0,343.9 L619.6,338.1 L630.1,331.2 L640.7,323.4 L651.2,315.0 L661.8,307.2 L672.3,299.8 L682.9,293.5 L693.4,289.1 L704.0,286.6 L714.5,287.6 L725.1,292.0 L735.6,298.9 L746.2,307.2 L756.7,318.3 L767.2,326.0 L777.8,332.9 L788.4,339.0 L798.9,344.0 L809.5,348.2 L820.0,351.4 L830.6,353.4 L841.1,354.8 L851.7,355.5 L862.2,355.9 L872.8,356.1 L883.3,356.2 L893.9,356.2 L904.4,356.2 L915.0,356.2 L925.5,356.2 L936.1,356.2 L946.6,356.2 L957.2,356.2" fill="none" stroke="#fff" stroke-width="3" stroke-linejoin="round" stroke-linecap="butt"/>
<path d="M524.6,356.2 L535.1,356.2 L545.7,356.1 L556.2,355.8 L566.8,355.2 L577.4,354.2 L587.9,352.3 L598.5,348.8 L609.0,343.9 L619.6,338.1 L630.1,331.2 L640.7,323.4 L651.2,315.0 L661.8,307.2 L672.3,299.8 L682.9,293.5 L693.4,289.1 L704.0,286.6 L714.5,287.6 L725.1,292.0 L735.6,298.9 L746.2,307.2 L756.7,318.3 L767.2,326.0 L777.8,332.9 L788.4,339.0 L798.9,344.0 L809.5,348.2 L820.0,351.4 L830.6,353.4 L841.1,354.8 L851.7,355.5 L862.2,355.9 L872.8,356.1 L883.3,356.2 L893.9,356.2 L904.4,356.2 L915.0,356.2 L925.5,356.2 L936.1,356.2 L946.6,356.2 L957.2,356.2" fill="none" stroke="#3573a1" stroke-width="1.8" stroke-linejoin="round" stroke-linecap="butt"/>
<path d="M524.6,356.2 L535.1,356.2 L545.7,356.1 L556.2,355.9 L566.8,355.5 L577.4,354.7 L587.9,353.3 L598.5,350.8 L609.0,347.4 L619.6,343.0 L630.1,337.6 L640.7,331.2 L651.2,323.9 L661.8,315.5 L672.3,307.2 L682.9,299.4 L693.4,292.5 L704.0,287.6 L714.5,284.7 L725.1,286.6 L735.6,292.5 L746.2,300.3 L756.7,311.0 L767.2,319.9 L777.8,328.2 L788.4,335.4 L798.9,341.5 L809.5,346.4 L820.0,350.3 L830.6,352.8 L841.1,354.5 L851.7,355.3 L862.2,355.8 L872.8,356.0 L883.3,356.2 L893.9,356.2 L904.4,356.2" fill="none" stroke="#fff" stroke-width="3" stroke-linejoin="round" stroke-linecap="butt"/>
<path d="M524.6,356.2 L535.1,356.2 L545.7,356.1 L556.2,355.9 L566.8,355.5 L577.4,354.7 L587.9,353.3 L598.5,350.8 L609.0,347.4 L619.6,343.0 L630.1,337.6 L640.7,331.2 L651.2,323.9 L661.8,315.5 L672.3,307.2 L682.9,299.4 L693.4,292.5 L704.0,287.6 L714.5,284.7 L725.1,286.6 L735.6,292.5 L746.2,300.3 L756.7,311.0 L767.2,319.9 L777.8,328.2 L788.4,335.4 L798.9,341.5 L809.5,346.4 L820.0,350.3 L830.6,352.8 L841.1,354.5 L851.7,355.3 L862.2,355.8 L872.8,356.0 L883.3,356.2 L893.9,356.2 L904.4,356.2" fill="none" stroke="#3483a5" stroke-width="1.8" stroke-linejoin="round" stroke-linecap="butt"/>
<path d="M524.6,356.2 L535.1,356.2 L545.7,356.1 L556.2,355.9 L566.8,355.6 L577.4,354.9 L587.9,353.8 L598.5,351.8 L609.0,348.8 L619.6,345.4 L630.1,341.0 L640.7,335.6 L651.2,328.8 L661.8,320.4 L672.3,311.1 L682.9,301.8 L693.4,293.5 L704.0,287.1 L714.5,283.2 L725.1,284.4 L735.6,290.0 L746.2,297.4 L756.7,306.0 L767.2,315.9 L777.8,325.0 L788.4,333.0 L798.9,339.8 L809.5,345.2 L820.0,349.5 L830.6,352.4 L841.1,354.3 L851.7,355.2" fill="none" stroke="#fff" stroke-width="3" stroke-linejoin="round" stroke-linecap="butt"/>
<path d="M524.6,356.2 L535.1,356.2 L545.7,356.1 L556.2,355.9 L566.8,355.6 L577.4,354.9 L587.9,353.8 L598.5,351.8 L609.0,348.8 L619.6,345.4 L630.1,341.0 L640.7,335.6 L651.2,328.8 L661.8,320.4 L672.3,311.1 L682.9,301.8 L693.4,293.5 L704.0,287.1 L714.5,283.2 L725.1,284.4 L735.6,290.0 L746.2,297.4 L756.7,306.0 L767.2,315.9 L777.8,325.0 L788.4,333.0 L798.9,339.8 L809.5,345.2 L820.0,349.5 L830.6,352.4 L841.1,354.3 L851.7,355.2" fill="none" stroke="#3491a8" stroke-width="1.8" stroke-linejoin="round" stroke-linecap="butt"/>
<path d="M524.6,356.2 L535.1,356.2 L545.7,356.1 L556.2,355.9 L566.8,355.5 L577.4,354.7 L587.9,353.3 L598.5,350.8 L609.0,347.9 L619.6,344.4 L630.1,340.0 L640.7,334.6 L651.2,328.3 L661.8,320.4 L672.3,311.6 L682.9,302.8 L693.4,294.5 L704.0,288.1 L714.5,284.2 L725.1,284.7 L735.6,289.6 L746.2,296.4 L756.7,305.0 L767.2,315.0 L777.8,324.3 L788.4,332.5 L798.9,339.4" fill="none" stroke="#fff" stroke-width="3" stroke-linejoin="round" stroke-linecap="butt"/>
<path d="M524.6,356.2 L535.1,356.2 L545.7,356.1 L556.2,355.9 L566.8,355.5 L577.4,354.7 L587.9,353.3 L598.5,350.8 L609.0,347.9 L619.6,344.4 L630.1,340.0 L640.7,334.6 L651.2,328.3 L661.8,320.4 L672.3,311.6 L682.9,302.8 L693.4,294.5 L704.0,288.1 L714.5,284.2 L725.1,284.7 L735.6,289.6 L746.2,296.4 L756.7,305.0 L767.2,315.0 L777.8,324.3 L788.4,332.5 L798.9,339.4" fill="none" stroke="#35a1ab" stroke-width="1.8" stroke-linejoin="round" stroke-linecap="butt"/>
<path d="M524.6,356.2 L535.1,356.2 L545.7,356.1 L556.2,356.0 L566.8,355.6 L577.4,355.0 L587.9,353.8 L598.5,351.8 L609.0,349.3 L619.6,346.4 L630.1,342.5 L640.7,337.1 L651.2,330.7 L661.8,323.4 L672.3,315.0 L682.9,306.2 L693.4,297.4 L704.0,290.5 L714.5,286.1 L725.1,285.1 L735.6,288.6 L746.2,294.5" fill="none" stroke="#fff" stroke-width="3" stroke-linejoin="round" stroke-linecap="butt"/>
<path d="M524.6,356.2 L535.1,356.2 L545.7,356.1 L556.2,356.0 L566.8,355.6 L577.4,355.0 L587.9,353.8 L598.5,351.8 L609.0,349.3 L619.6,346.4 L630.1,342.5 L640.7,337.1 L651.2,330.7 L661.8,323.4 L672.3,315.0 L682.9,306.2 L693.4,297.4 L704.0,290.5 L714.5,286.1 L725.1,285.1 L735.6,288.6 L746.2,294.5" fill="none" stroke="#3cb1ad" stroke-width="1.8" stroke-linejoin="round" stroke-linecap="butt"/>
<path d="M524.6,356.2 L535.1,356.2 L545.7,356.2 L556.2,356.0 L566.8,355.7 L577.4,355.2 L587.9,354.2 L598.5,352.8 L609.0,350.8 L619.6,348.4 L630.1,344.9 L640.7,340.0 L651.2,334.6 L661.8,328.3 L672.3,320.4 L682.9,312.1 L693.4,304.0" fill="none" stroke="#fff" stroke-width="3" stroke-linejoin="round" stroke-linecap="butt"/>
<path d="M524.6,356.2 L535.1,356.2 L545.7,356.2 L556.2,356.0 L566.8,355.7 L577.4,355.2 L587.9,354.2 L598.5,352.8 L609.0,350.8 L619.6,348.4 L630.1,344.9 L640.7,340.0 L651.2,334.6 L661.8,328.3 L672.3,320.4 L682.9,312.1 L693.4,304.0" fill="none" stroke="#47bfad" stroke-width="1.8" stroke-linejoin="round" stroke-linecap="butt"/>
<path d="M524.6,356.2 L535.1,356.2 L545.7,356.2 L556.2,356.1 L566.8,355.8 L577.4,355.5 L587.9,354.7 L598.5,353.3 L609.0,351.8 L619.6,349.3 L630.1,345.9 L640.7,341.5" fill="none" stroke="#fff" stroke-width="3" stroke-linejoin="round" stroke-linecap="butt"/>
<path d="M524.6,356.2 L535.1,356.2 L545.7,356.2 L556.2,356.1 L566.8,355.8 L577.4,355.5 L587.9,354.7 L598.5,353.3 L609.0,351.8 L619.6,349.3 L630.1,345.9 L640.7,341.5" fill="none" stroke="#5ecdad" stroke-width="1.8" stroke-linejoin="round" stroke-linecap="butt"/>
<path d="M524.6,356.2 L535.1,356.2 L545.7,356.2 L556.2,356.1 L566.8,355.9 L577.4,355.6 L587.9,355.2" fill="none" stroke="#fff" stroke-width="3" stroke-linejoin="round" stroke-linecap="butt"/>
<path d="M524.6,356.2 L535.1,356.2 L545.7,356.2 L556.2,356.1 L566.8,355.9 L577.4,355.6 L587.9,355.2" fill="none" stroke="#82d8b0" stroke-width="1.8" stroke-linejoin="round" stroke-linecap="butt"/>
<path d="M524.6,356.2 L535.1,356.2 L545.7,356.2" fill="none" stroke="#fff" stroke-width="3" stroke-linejoin="round" stroke-linecap="butt"/>
<path d="M524.6,356.2 L535.1,356.2 L545.7,356.2" fill="none" stroke="#a9e1bd" stroke-width="1.8" stroke-linejoin="round" stroke-linecap="butt"/>
<text class="ft" x="51.1" y="438.6">Japan</text>
<line x1="50.6" x2="504.3" y1="577.5" y2="577.5" stroke="#e0e0e0" stroke-width="1" stroke-dasharray="4.7,4.7"/>
<line x1="50.6" x2="504.3" y1="553.0" y2="553.0" stroke="#e0e0e0" stroke-width="1" stroke-dasharray="4.7,4.7"/>
<line x1="50.6" x2="504.3" y1="528.5" y2="528.5" stroke="#e0e0e0" stroke-width="1" stroke-dasharray="4.7,4.7"/>
<line x1="50.6" x2="504.3" y1="504.0" y2="504.0" stroke="#e0e0e0" stroke-width="1" stroke-dasharray="4.7,4.7"/>
<line x1="50.6" x2="504.3" y1="479.5" y2="479.5" stroke="#e0e0e0" stroke-width="1" stroke-dasharray="4.7,4.7"/>
<line x1="50.6" x2="504.3" y1="455.0" y2="455.0" stroke="#e0e0e0" stroke-width="1" stroke-dasharray="4.7,4.7"/>
<text class="tk" x="44.9" y="606.5" text-anchor="end">0</text>
<text class="tk" x="44.9" y="582.0" text-anchor="end">0.05</text>
<text class="tk" x="44.9" y="557.5" text-anchor="end">0.1</text>
<text class="tk" x="44.9" y="533.0" text-anchor="end">0.15</text>
<text class="tk" x="44.9" y="508.5" text-anchor="end">0.2</text>
<text class="tk" x="44.9" y="484.0" text-anchor="end">0.25</text>
<text class="tk" x="44.9" y="459.5" text-anchor="end">0.3</text>
<line x1="50.6" x2="504.3" y1="602.0" y2="602.0" stroke="#999" stroke-width="1"/>
<line x1="50.6" x2="50.6" y1="602.0" y2="607.0" stroke="#999" stroke-width="1"/>
<text class="tk" x="51.2" y="621.3" text-anchor="start">12</text>
<line x1="135.0" x2="135.0" y1="602.0" y2="607.0" stroke="#999" stroke-width="1"/>
<text class="tk" x="135.0" y="621.3" text-anchor="middle">20</text>
<line x1="240.5" x2="240.5" y1="602.0" y2="607.0" stroke="#999" stroke-width="1"/>
<text class="tk" x="240.5" y="621.3" text-anchor="middle">30</text>
<line x1="346.0" x2="346.0" y1="602.0" y2="607.0" stroke="#999" stroke-width="1"/>
<text class="tk" x="346.0" y="621.3" text-anchor="middle">40</text>
<line x1="451.5" x2="451.5" y1="602.0" y2="607.0" stroke="#999" stroke-width="1"/>
<text class="tk" x="451.5" y="621.3" text-anchor="middle">50</text>
<line x1="504.3" x2="504.3" y1="602.0" y2="607.0" stroke="#999" stroke-width="1"/>
<text class="tk" x="504.3" y="621.3" text-anchor="end">55</text>
<text class="al" x="277.4" y="644.0" text-anchor="middle">Age of women</text>
<path d="M156.1,510.9 L166.7,485.9 L177.2,480.2 L187.8,485.9 L198.3,492.8 L208.8,500.8 L219.4,515.8 L230.0,531.0 L240.5,544.7 L251.1,556.9 L261.6,567.7 L272.2,576.5 L282.7,582.7 L293.2,586.8 L303.8,590.3 L314.4,593.3 L324.9,595.5 L335.5,597.4 L346.0,599.1 L356.6,600.3 L367.1,601.1 L377.7,601.6 L388.2,601.8 L398.8,602.0 L409.3,602.0 L419.9,602.0 L430.4,602.0 L441.0,602.0 L451.5,602.0 L462.1,602.0 L472.6,602.0 L483.2,602.0 L493.7,602.0 L504.3,602.0" fill="none" stroke="#fff" stroke-width="3" stroke-linejoin="round" stroke-linecap="butt"/>
<path d="M156.1,510.9 L166.7,485.9 L177.2,480.2 L187.8,485.9 L198.3,492.8 L208.8,500.8 L219.4,515.8 L230.0,531.0 L240.5,544.7 L251.1,556.9 L261.6,567.7 L272.2,576.5 L282.7,582.7 L293.2,586.8 L303.8,590.3 L314.4,593.3 L324.9,595.5 L335.5,597.4 L346.0,599.1 L356.6,600.3 L367.1,601.1 L377.7,601.6 L388.2,601.8 L398.8,602.0 L409.3,602.0 L419.9,602.0 L430.4,602.0 L441.0,602.0 L451.5,602.0 L462.1,602.0 L472.6,602.0 L483.2,602.0 L493.7,602.0 L504.3,602.0" fill="none" stroke="#180d16" stroke-width="1.8" stroke-linejoin="round" stroke-linecap="butt"/>
<path d="M103.3,597.1 L113.9,589.8 L124.5,578.0 L135.0,563.8 L145.6,547.8 L156.1,531.9 L166.7,519.8 L177.2,510.2 L187.8,505.8 L198.3,507.9 L208.8,510.9 L219.4,519.7 L230.0,532.4 L240.5,546.6 L251.1,558.9 L261.6,569.7 L272.2,578.5 L282.7,585.3 L293.2,589.4 L303.8,592.6 L314.4,595.2 L324.9,597.1 L335.5,598.5 L346.0,599.9 L356.6,600.8 L367.1,601.4 L377.7,601.7 L388.2,601.9 L398.8,602.0 L409.3,602.0 L419.9,602.0 L430.4,602.0 L441.0,602.0 L451.5,602.0 L462.1,602.0 L472.6,602.0 L483.2,602.0 L493.7,602.0 L504.3,602.0" fill="none" stroke="#fff" stroke-width="3" stroke-linejoin="round" stroke-linecap="butt"/>
<path d="M103.3,597.1 L113.9,589.8 L124.5,578.0 L135.0,563.8 L145.6,547.8 L156.1,531.9 L166.7,519.8 L177.2,510.2 L187.8,505.8 L198.3,507.9 L208.8,510.9 L219.4,519.7 L230.0,532.4 L240.5,546.6 L251.1,558.9 L261.6,569.7 L272.2,578.5 L282.7,585.3 L293.2,589.4 L303.8,592.6 L314.4,595.2 L324.9,597.1 L335.5,598.5 L346.0,599.9 L356.6,600.8 L367.1,601.4 L377.7,601.7 L388.2,601.9 L398.8,602.0 L409.3,602.0 L419.9,602.0 L430.4,602.0 L441.0,602.0 L451.5,602.0 L462.1,602.0 L472.6,602.0 L483.2,602.0 L493.7,602.0 L504.3,602.0" fill="none" stroke="#26172b" stroke-width="1.8" stroke-linejoin="round" stroke-linecap="butt"/>
<path d="M50.6,602.0 L61.2,602.0 L71.7,601.9 L82.2,601.9 L92.8,601.5 L103.3,600.0 L113.9,596.1 L124.5,588.8 L135.0,576.8 L145.6,559.9 L156.1,539.8 L166.7,519.8 L177.2,505.8 L187.8,500.2 L198.3,500.8 L208.8,505.8 L219.4,517.7 L230.0,531.0 L240.5,546.6 L251.1,560.4 L261.6,570.6 L272.2,579.0 L282.7,586.7 L293.2,590.6 L303.8,593.8 L314.4,596.2 L324.9,597.8 L335.5,599.1 L346.0,600.2 L356.6,601.0 L367.1,601.5 L377.7,601.8 L388.2,601.9 L398.8,602.0 L409.3,602.0 L419.9,602.0 L430.4,602.0 L441.0,602.0 L451.5,602.0 L462.1,602.0 L472.6,602.0 L483.2,602.0 L493.7,602.0 L504.3,602.0" fill="none" stroke="#fff" stroke-width="3" stroke-linejoin="round" stroke-linecap="butt"/>
<path d="M50.6,602.0 L61.2,602.0 L71.7,601.9 L82.2,601.9 L92.8,601.5 L103.3,600.0 L113.9,596.1 L124.5,588.8 L135.0,576.8 L145.6,559.9 L156.1,539.8 L166.7,519.8 L177.2,505.8 L187.8,500.2 L198.3,500.8 L208.8,505.8 L219.4,517.7 L230.0,531.0 L240.5,546.6 L251.1,560.4 L261.6,570.6 L272.2,579.0 L282.7,586.7 L293.2,590.6 L303.8,593.8 L314.4,596.2 L324.9,597.8 L335.5,599.1 L346.0,600.2 L356.6,601.0 L367.1,601.5 L377.7,601.8 L388.2,601.9 L398.8,602.0 L409.3,602.0 L419.9,602.0 L430.4,602.0 L441.0,602.0 L451.5,602.0 L462.1,602.0 L472.6,602.0 L483.2,602.0 L493.7,602.0 L504.3,602.0" fill="none" stroke="#312142" stroke-width="1.8" stroke-linejoin="round" stroke-linecap="butt"/>
<path d="M50.6,602.0 L61.2,602.0 L71.7,601.9 L82.2,601.9 L92.8,601.5 L103.3,600.5 L113.9,598.1 L124.5,592.7 L135.0,581.9 L145.6,564.8 L156.1,543.7 L166.7,522.8 L177.2,506.8 L187.8,498.8 L198.3,499.8 L208.8,490.8 L219.4,505.8 L230.0,519.7 L240.5,535.9 L251.1,552.0 L261.6,565.2 L272.2,576.0 L282.7,585.3 L293.2,589.4 L303.8,592.6 L314.4,595.2 L324.9,597.1 L335.5,598.5 L346.0,599.9 L356.6,600.8 L367.1,601.4 L377.7,601.7 L388.2,601.9 L398.8,602.0 L409.3,602.0 L419.9,602.0 L430.4,602.0 L441.0,602.0 L451.5,602.0 L462.1,602.0 L472.6,602.0 L483.2,602.0 L493.7,602.0 L504.3,602.0" fill="none" stroke="#fff" stroke-width="3" stroke-linejoin="round" stroke-linecap="butt"/>
<path d="M50.6,602.0 L61.2,602.0 L71.7,601.9 L82.2,601.9 L92.8,601.5 L103.3,600.5 L113.9,598.1 L124.5,592.7 L135.0,581.9 L145.6,564.8 L156.1,543.7 L166.7,522.8 L177.2,506.8 L187.8,498.8 L198.3,499.8 L208.8,490.8 L219.4,505.8 L230.0,519.7 L240.5,535.9 L251.1,552.0 L261.6,565.2 L272.2,576.0 L282.7,585.3 L293.2,589.4 L303.8,592.6 L314.4,595.2 L324.9,597.1 L335.5,598.5 L346.0,599.9 L356.6,600.8 L367.1,601.4 L377.7,601.7 L388.2,601.9 L398.8,602.0 L409.3,602.0 L419.9,602.0 L430.4,602.0 L441.0,602.0 L451.5,602.0 L462.1,602.0 L472.6,602.0 L483.2,602.0 L493.7,602.0 L504.3,602.0" fill="none" stroke="#3a2c58" stroke-width="1.8" stroke-linejoin="round" stroke-linecap="butt"/>
<path d="M50.6,602.0 L61.2,602.0 L71.7,601.9 L82.2,601.9 L92.8,601.5 L103.3,600.5 L113.9,598.6 L124.5,593.7 L135.0,583.9 L145.6,570.8 L156.1,547.8 L166.7,525.8 L177.2,505.8 L187.8,491.8 L198.3,488.4 L208.8,493.8 L219.4,505.8 L230.0,519.7 L240.5,536.8 L251.1,553.0 L261.6,566.2 L272.2,576.5 L282.7,584.8 L293.2,588.8 L303.8,592.2 L314.4,594.9 L324.9,596.8 L335.5,598.3 L346.0,599.7 L356.6,600.7 L367.1,601.3 L377.7,601.7 L388.2,601.9 L398.8,602.0 L409.3,602.0 L419.9,602.0 L430.4,602.0 L441.0,602.0 L451.5,602.0 L462.1,602.0 L472.6,602.0 L483.2,602.0 L493.7,602.0 L504.3,602.0" fill="none" stroke="#fff" stroke-width="3" stroke-linejoin="round" stroke-linecap="butt"/>
<path d="M50.6,602.0 L61.2,602.0 L71.7,601.9 L82.2,601.9 L92.8,601.5 L103.3,600.5 L113.9,598.6 L124.5,593.7 L135.0,583.9 L145.6,570.8 L156.1,547.8 L166.7,525.8 L177.2,505.8 L187.8,491.8 L198.3,488.4 L208.8,493.8 L219.4,505.8 L230.0,519.7 L240.5,536.8 L251.1,553.0 L261.6,566.2 L272.2,576.5 L282.7,584.8 L293.2,588.8 L303.8,592.2 L314.4,594.9 L324.9,596.8 L335.5,598.3 L346.0,599.7 L356.6,600.7 L367.1,601.3 L377.7,601.7 L388.2,601.9 L398.8,602.0 L409.3,602.0 L419.9,602.0 L430.4,602.0 L441.0,602.0 L451.5,602.0 L462.1,602.0 L472.6,602.0 L483.2,602.0 L493.7,602.0 L504.3,602.0" fill="none" stroke="#3f3770" stroke-width="1.8" stroke-linejoin="round" stroke-linecap="butt"/>
<path d="M50.6,602.0 L61.2,602.0 L71.7,601.9 L82.2,601.9 L92.8,601.5 L103.3,600.5 L113.9,598.6 L124.5,594.6 L135.0,585.8 L145.6,573.8 L156.1,556.9 L166.7,535.9 L177.2,516.7 L187.8,505.8 L198.3,502.8 L208.8,505.0 L219.4,513.8 L230.0,524.6 L240.5,539.3 L251.1,553.5 L261.6,565.7 L272.2,575.5 L282.7,583.2 L293.2,587.3 L303.8,590.8 L314.4,593.7 L324.9,595.8 L335.5,597.6 L346.0,599.3 L356.6,600.4 L367.1,601.2 L377.7,601.6 L388.2,601.8 L398.8,602.0 L409.3,602.0 L419.9,602.0 L430.4,602.0 L441.0,602.0 L451.5,602.0 L462.1,602.0 L472.6,602.0 L483.2,602.0 L493.7,602.0 L504.3,602.0" fill="none" stroke="#fff" stroke-width="3" stroke-linejoin="round" stroke-linecap="butt"/>
<path d="M50.6,602.0 L61.2,602.0 L71.7,601.9 L82.2,601.9 L92.8,601.5 L103.3,600.5 L113.9,598.6 L124.5,594.6 L135.0,585.8 L145.6,573.8 L156.1,556.9 L166.7,535.9 L177.2,516.7 L187.8,505.8 L198.3,502.8 L208.8,505.0 L219.4,513.8 L230.0,524.6 L240.5,539.3 L251.1,553.5 L261.6,565.7 L272.2,575.5 L282.7,583.2 L293.2,587.3 L303.8,590.8 L314.4,593.7 L324.9,595.8 L335.5,597.6 L346.0,599.3 L356.6,600.4 L367.1,601.2 L377.7,601.6 L388.2,601.8 L398.8,602.0 L409.3,602.0 L419.9,602.0 L430.4,602.0 L441.0,602.0 L451.5,602.0 L462.1,602.0 L472.6,602.0 L483.2,602.0 L493.7,602.0 L504.3,602.0" fill="none" stroke="#414387" stroke-width="1.8" stroke-linejoin="round" stroke-linecap="butt"/>
<path d="M50.6,602.0 L61.2,602.0 L71.7,601.9 L82.2,601.9 L92.8,601.5 L103.3,600.5 L113.9,599.1 L124.5,596.1 L135.0,587.8 L145.6,579.0 L156.1,565.7 L166.7,549.8 L177.2,533.9 L187.8,522.8 L198.3,516.7 L208.8,515.4 L219.4,520.8 L230.0,528.5 L240.5,540.3 L251.1,552.5 L261.6,563.8 L272.2,573.1 L282.7,579.8 L293.2,584.0 L303.8,587.7 L314.4,591.2 L324.9,593.8 L335.5,596.2 L346.0,598.3 L356.6,599.8 L367.1,600.9 L377.7,601.4 L388.2,601.8 L398.8,601.9 L409.3,602.0 L419.9,602.0 L430.4,602.0 L441.0,602.0 L451.5,602.0 L462.1,602.0 L472.6,602.0 L483.2,602.0 L493.7,602.0 L504.3,602.0" fill="none" stroke="#fff" stroke-width="3" stroke-linejoin="round" stroke-linecap="butt"/>
<path d="M50.6,602.0 L61.2,602.0 L71.7,601.9 L82.2,601.9 L92.8,601.5 L103.3,600.5 L113.9,599.1 L124.5,596.1 L135.0,587.8 L145.6,579.0 L156.1,565.7 L166.7,549.8 L177.2,533.9 L187.8,522.8 L198.3,516.7 L208.8,515.4 L219.4,520.8 L230.0,528.5 L240.5,540.3 L251.1,552.5 L261.6,563.8 L272.2,573.1 L282.7,579.8 L293.2,584.0 L303.8,587.7 L314.4,591.2 L324.9,593.8 L335.5,596.2 L346.0,598.3 L356.6,599.8 L367.1,600.9 L377.7,601.4 L388.2,601.8 L398.8,601.9 L409.3,602.0 L419.9,602.0 L430.4,602.0 L441.0,602.0 L451.5,602.0 L462.1,602.0 L472.6,602.0 L483.2,602.0 L493.7,602.0 L504.3,602.0" fill="none" stroke="#3c5397" stroke-width="1.8" stroke-linejoin="round" stroke-linecap="butt"/>
<path d="M50.6,602.0 L61.2,602.0 L71.7,601.9 L82.2,601.9 L92.8,601.5 L103.3,600.5 L113.9,599.1 L124.5,596.6 L135.0,589.8 L145.6,582.9 L156.1,573.8 L166.7,561.8 L177.2,549.8 L187.8,539.8 L198.3,534.9 L208.8,532.2 L219.4,531.4 L230.0,534.4 L240.5,541.7 L251.1,551.5 L261.6,561.3 L272.2,569.7 L282.7,576.1 L293.2,580.4 L303.8,584.4 L314.4,588.4 L324.9,591.7 L335.5,594.6 L346.0,597.2 L356.6,599.2 L367.1,600.5 L377.7,601.3 L388.2,601.7 L398.8,601.9 L409.3,602.0 L419.9,602.0 L430.4,602.0 L441.0,602.0 L451.5,602.0 L462.1,602.0 L472.6,602.0 L483.2,602.0 L493.7,602.0 L504.3,602.0" fill="none" stroke="#fff" stroke-width="3" stroke-linejoin="round" stroke-linecap="butt"/>
<path d="M50.6,602.0 L61.2,602.0 L71.7,601.9 L82.2,601.9 L92.8,601.5 L103.3,600.5 L113.9,599.1 L124.5,596.6 L135.0,589.8 L145.6,582.9 L156.1,573.8 L166.7,561.8 L177.2,549.8 L187.8,539.8 L198.3,534.9 L208.8,532.2 L219.4,531.4 L230.0,534.4 L240.5,541.7 L251.1,551.5 L261.6,561.3 L272.2,569.7 L282.7,576.1 L293.2,580.4 L303.8,584.4 L314.4,588.4 L324.9,591.7 L335.5,594.6 L346.0,597.2 L356.6,599.2 L367.1,600.5 L377.7,601.3 L388.2,601.7 L398.8,601.9 L409.3,602.0 L419.9,602.0 L430.4,602.0 L441.0,602.0 L451.5,602.0 L462.1,602.0 L472.6,602.0 L483.2,602.0 L493.7,602.0 L504.3,602.0" fill="none" stroke="#37649e" stroke-width="1.8" stroke-linejoin="round" stroke-linecap="butt"/>
<path d="M50.6,602.0 L61.2,602.0 L71.7,601.9 L82.2,601.9 L92.8,601.5 L103.3,600.5 L113.9,599.1 L124.5,596.6 L135.0,591.4 L145.6,585.8 L156.1,579.0 L166.7,570.8 L177.2,561.8 L187.8,554.0 L198.3,548.8 L208.8,545.8 L219.4,543.8 L230.0,543.4 L240.5,545.8 L251.1,551.8 L261.6,558.9 L272.2,565.7 L282.7,571.3 L293.2,575.8 L303.8,580.2 L314.4,584.9 L324.9,588.9 L335.5,592.7 L346.0,595.9 L356.6,598.4 L367.1,600.1 L377.7,601.0 L388.2,601.6 L398.8,601.9 L409.3,601.9 L419.9,602.0 L430.4,602.0 L441.0,602.0 L451.5,602.0 L462.1,602.0 L472.6,602.0 L483.2,602.0 L493.7,602.0 L504.3,602.0" fill="none" stroke="#fff" stroke-width="3" stroke-linejoin="round" stroke-linecap="butt"/>
<path d="M50.6,602.0 L61.2,602.0 L71.7,601.9 L82.2,601.9 L92.8,601.5 L103.3,600.5 L113.9,599.1 L124.5,596.6 L135.0,591.4 L145.6,585.8 L156.1,579.0 L166.7,570.8 L177.2,561.8 L187.8,554.0 L198.3,548.8 L208.8,545.8 L219.4,543.8 L230.0,543.4 L240.5,545.8 L251.1,551.8 L261.6,558.9 L272.2,565.7 L282.7,571.3 L293.2,575.8 L303.8,580.2 L314.4,584.9 L324.9,588.9 L335.5,592.7 L346.0,595.9 L356.6,598.4 L367.1,600.1 L377.7,601.0 L388.2,601.6 L398.8,601.9 L409.3,601.9 L419.9,602.0 L430.4,602.0 L441.0,602.0 L451.5,602.0 L462.1,602.0 L472.6,602.0 L483.2,602.0 L493.7,602.0 L504.3,602.0" fill="none" stroke="#3573a1" stroke-width="1.8" stroke-linejoin="round" stroke-linecap="butt"/>
<path d="M50.6,602.0 L61.2,602.0 L71.7,601.9 L82.2,601.9 L92.8,601.5 L103.3,600.5 L113.9,599.1 L124.5,596.6 L135.0,592.4 L145.6,587.8 L156.1,582.9 L166.7,576.8 L177.2,569.8 L187.8,563.8 L198.3,558.9 L208.8,554.8 L219.4,551.8 L230.0,550.2 L240.5,549.8 L251.1,551.8 L261.6,555.8 L272.2,561.3 L282.7,566.6 L293.2,571.2 L303.8,575.9 L314.4,581.4 L324.9,586.1 L335.5,590.7 L346.0,594.5 L356.6,597.6 L367.1,599.6 L377.7,600.8 L388.2,601.5 L398.8,601.8 L409.3,601.9 L419.9,602.0 L430.4,602.0 L441.0,602.0 L451.5,602.0 L462.1,602.0" fill="none" stroke="#fff" stroke-width="3" stroke-linejoin="round" stroke-linecap="butt"/>
<path d="M50.6,602.0 L61.2,602.0 L71.7,601.9 L82.2,601.9 L92.8,601.5 L103.3,600.5 L113.9,599.1 L124.5,596.6 L135.0,592.4 L145.6,587.8 L156.1,582.9 L166.7,576.8 L177.2,569.8 L187.8,563.8 L198.3,558.9 L208.8,554.8 L219.4,551.8 L230.0,550.2 L240.5,549.8 L251.1,551.8 L261.6,555.8 L272.2,561.3 L282.7,566.6 L293.2,571.2 L303.8,575.9 L314.4,581.4 L324.9,586.1 L335.5,590.7 L346.0,594.5 L356.6,597.6 L367.1,599.6 L377.7,600.8 L388.2,601.5 L398.8,601.8 L409.3,601.9 L419.9,602.0 L430.4,602.0 L441.0,602.0 L451.5,602.0 L462.1,602.0" fill="none" stroke="#3483a5" stroke-width="1.8" stroke-linejoin="round" stroke-linecap="butt"/>
<path d="M50.6,602.0 L61.2,602.0 L71.7,601.9 L82.2,601.9 L92.8,601.5 L103.3,600.5 L113.9,598.6 L124.5,596.1 L135.0,592.4 L145.6,588.3 L156.1,583.9 L166.7,579.5 L177.2,574.6 L187.8,569.2 L198.3,565.7 L208.8,560.8 L219.4,555.5 L230.0,550.8 L240.5,548.8 L251.1,549.4 L261.6,551.8 L272.2,555.7 L282.7,562.1 L293.2,566.8 L303.8,571.9 L314.4,578.1 L324.9,583.5 L335.5,588.8 L346.0,593.2 L356.6,596.8 L367.1,599.2 L377.7,600.6 L388.2,601.4 L398.8,601.8 L409.3,601.9" fill="none" stroke="#fff" stroke-width="3" stroke-linejoin="round" stroke-linecap="butt"/>
<path d="M50.6,602.0 L61.2,602.0 L71.7,601.9 L82.2,601.9 L92.8,601.5 L103.3,600.5 L113.9,598.6 L124.5,596.1 L135.0,592.4 L145.6,588.3 L156.1,583.9 L166.7,579.5 L177.2,574.6 L187.8,569.2 L198.3,565.7 L208.8,560.8 L219.4,555.5 L230.0,550.8 L240.5,548.8 L251.1,549.4 L261.6,551.8 L272.2,555.7 L282.7,562.1 L293.2,566.8 L303.8,571.9 L314.4,578.1 L324.9,583.5 L335.5,588.8 L346.0,593.2 L356.6,596.8 L367.1,599.2 L377.7,600.6 L388.2,601.4 L398.8,601.8 L409.3,601.9" fill="none" stroke="#3491a8" stroke-width="1.8" stroke-linejoin="round" stroke-linecap="butt"/>
<path d="M50.6,602.0 L61.2,602.0 L71.7,601.9 L82.2,601.9 L92.8,601.5 L103.3,600.5 L113.9,598.6 L124.5,595.6 L135.0,592.2 L145.6,588.8 L156.1,585.3 L166.7,581.4 L177.2,577.0 L187.8,572.1 L198.3,567.2 L208.8,561.8 L219.4,556.4 L230.0,552.0 L240.5,549.6 L251.1,549.1 L261.6,550.5 L272.2,553.5 L282.7,560.3 L293.2,565.1 L303.8,570.3 L314.4,576.8 L324.9,582.4 L335.5,588.0 L346.0,592.7 L356.6,596.5" fill="none" stroke="#fff" stroke-width="3" stroke-linejoin="round" stroke-linecap="butt"/>
<path d="M50.6,602.0 L61.2,602.0 L71.7,601.9 L82.2,601.9 L92.8,601.5 L103.3,600.5 L113.9,598.6 L124.5,595.6 L135.0,592.2 L145.6,588.8 L156.1,585.3 L166.7,581.4 L177.2,577.0 L187.8,572.1 L198.3,567.2 L208.8,561.8 L219.4,556.4 L230.0,552.0 L240.5,549.6 L251.1,549.1 L261.6,550.5 L272.2,553.5 L282.7,560.3 L293.2,565.1 L303.8,570.3 L314.4,576.8 L324.9,582.4 L335.5,588.0 L346.0,592.7 L356.6,596.5" fill="none" stroke="#35a1ab" stroke-width="1.8" stroke-linejoin="round" stroke-linecap="butt"/>
<path d="M50.6,602.0 L61.2,602.0 L71.7,601.9 L82.2,601.9 L92.8,601.5 L103.3,600.5 L113.9,599.1 L124.5,596.1 L135.0,593.2 L145.6,590.2 L156.1,586.8 L166.7,582.9 L177.2,578.5 L187.8,573.6 L198.3,568.2 L208.8,562.8 L219.4,557.4 L230.0,553.0 L240.5,550.1 L251.1,549.6 L261.6,551.5 L272.2,555.5 L282.7,559.4 L293.2,564.3 L303.8,569.7" fill="none" stroke="#fff" stroke-width="3" stroke-linejoin="round" stroke-linecap="butt"/>
<path d="M50.6,602.0 L61.2,602.0 L71.7,601.9 L82.2,601.9 L92.8,601.5 L103.3,600.5 L113.9,599.1 L124.5,596.1 L135.0,593.2 L145.6,590.2 L156.1,586.8 L166.7,582.9 L177.2,578.5 L187.8,573.6 L198.3,568.2 L208.8,562.8 L219.4,557.4 L230.0,553.0 L240.5,550.1 L251.1,549.6 L261.6,551.5 L272.2,555.5 L282.7,559.4 L293.2,564.3 L303.8,569.7" fill="none" stroke="#3cb1ad" stroke-width="1.8" stroke-linejoin="round" stroke-linecap="butt"/>
<path d="M50.6,602.0 L61.2,602.0 L71.7,601.9 L82.2,601.9 L92.8,601.6 L103.3,601.0 L113.9,599.5 L124.5,597.1 L135.0,594.2 L145.6,591.7 L156.1,588.8 L166.7,585.3 L177.2,581.4 L187.8,576.5 L198.3,571.1 L208.8,565.2 L219.4,559.4 L230.0,554.5 L240.5,551.0 L251.1,550.1" fill="none" stroke="#fff" stroke-width="3" stroke-linejoin="round" stroke-linecap="butt"/>
<path d="M50.6,602.0 L61.2,602.0 L71.7,601.9 L82.2,601.9 L92.8,601.6 L103.3,601.0 L113.9,599.5 L124.5,597.1 L135.0,594.2 L145.6,591.7 L156.1,588.8 L166.7,585.3 L177.2,581.4 L187.8,576.5 L198.3,571.1 L208.8,565.2 L219.4,559.4 L230.0,554.5 L240.5,551.0 L251.1,550.1" fill="none" stroke="#47bfad" stroke-width="1.8" stroke-linejoin="round" stroke-linecap="butt"/>
<path d="M50.6,602.0 L61.2,602.0 L71.7,601.9 L82.2,601.9 L92.8,601.7 L103.3,601.3 L113.9,600.0 L124.5,598.1 L135.0,595.9 L145.6,593.7 L156.1,591.2 L166.7,588.3 L177.2,584.9 L187.8,580.4 L198.3,574.8" fill="none" stroke="#fff" stroke-width="3" stroke-linejoin="round" stroke-linecap="butt"/>
<path d="M50.6,602.0 L61.2,602.0 L71.7,601.9 L82.2,601.9 L92.8,601.7 L103.3,601.3 L113.9,600.0 L124.5,598.1 L135.0,595.9 L145.6,593.7 L156.1,591.2 L166.7,588.3 L177.2,584.9 L187.8,580.4 L198.3,574.8" fill="none" stroke="#5ecdad" stroke-width="1.8" stroke-linejoin="round" stroke-linecap="butt"/>
<path d="M50.6,602.0 L61.2,602.0 L71.7,602.0 L82.2,602.0 L92.8,601.8 L103.3,601.5 L113.9,600.5 L124.5,599.1 L135.0,597.6 L145.6,595.8" fill="none" stroke="#fff" stroke-width="3" stroke-linejoin="round" stroke-linecap="butt"/>
<path d="M50.6,602.0 L61.2,602.0 L71.7,602.0 L82.2,602.0 L92.8,601.8 L103.3,601.5 L113.9,600.5 L124.5,599.1 L135.0,597.6 L145.6,595.8" fill="none" stroke="#82d8b0" stroke-width="1.8" stroke-linejoin="round" stroke-linecap="butt"/>
<path d="M50.6,602.0 L61.2,602.0 L71.7,602.0 L82.2,601.9 L92.8,601.8" fill="none" stroke="#fff" stroke-width="3" stroke-linejoin="round" stroke-linecap="butt"/>
<path d="M50.6,602.0 L61.2,602.0 L71.7,602.0 L82.2,601.9 L92.8,601.8" fill="none" stroke="#a9e1bd" stroke-width="1.8" stroke-linejoin="round" stroke-linecap="butt"/>
<text class="ft" x="525.1" y="438.6">Russia</text>
<line x1="524.6" x2="978.2" y1="577.5" y2="577.5" stroke="#e0e0e0" stroke-width="1" stroke-dasharray="4.7,4.7"/>
<line x1="524.6" x2="978.2" y1="553.0" y2="553.0" stroke="#e0e0e0" stroke-width="1" stroke-dasharray="4.7,4.7"/>
<line x1="524.6" x2="978.2" y1="528.5" y2="528.5" stroke="#e0e0e0" stroke-width="1" stroke-dasharray="4.7,4.7"/>
<line x1="524.6" x2="978.2" y1="504.0" y2="504.0" stroke="#e0e0e0" stroke-width="1" stroke-dasharray="4.7,4.7"/>
<line x1="524.6" x2="978.2" y1="479.5" y2="479.5" stroke="#e0e0e0" stroke-width="1" stroke-dasharray="4.7,4.7"/>
<line x1="524.6" x2="978.2" y1="455.0" y2="455.0" stroke="#e0e0e0" stroke-width="1" stroke-dasharray="4.7,4.7"/>
<line x1="524.6" x2="978.2" y1="602.0" y2="602.0" stroke="#999" stroke-width="1"/>
<line x1="524.6" x2="524.6" y1="602.0" y2="607.0" stroke="#999" stroke-width="1"/>
<text class="tk" x="525.2" y="621.3" text-anchor="start">12</text>
<line x1="609.0" x2="609.0" y1="602.0" y2="607.0" stroke="#999" stroke-width="1"/>
<text class="tk" x="609.0" y="621.3" text-anchor="middle">20</text>
<line x1="714.5" x2="714.5" y1="602.0" y2="607.0" stroke="#999" stroke-width="1"/>
<text class="tk" x="714.5" y="621.3" text-anchor="middle">30</text>
<line x1="820.0" x2="820.0" y1="602.0" y2="607.0" stroke="#999" stroke-width="1"/>
<text class="tk" x="820.0" y="621.3" text-anchor="middle">40</text>
<line x1="925.5" x2="925.5" y1="602.0" y2="607.0" stroke="#999" stroke-width="1"/>
<text class="tk" x="925.5" y="621.3" text-anchor="middle">50</text>
<line x1="978.2" x2="978.2" y1="602.0" y2="607.0" stroke="#999" stroke-width="1"/>
<text class="tk" x="978.2" y="621.3" text-anchor="end">55</text>
<text class="al" x="751.4" y="644.0" text-anchor="middle">Age of women</text>
<path d="M756.7,564.6 L767.2,569.9 L777.8,576.2 L788.4,581.5 L798.9,585.8 L809.5,590.0 L820.0,593.9 L830.6,597.2 L841.1,599.3 L851.7,600.5 L862.2,601.3 L872.8,601.7 L883.3,601.9 L893.9,602.0 L904.4,602.0 L915.0,602.0 L925.5,602.0 L936.1,602.0 L946.6,602.0 L957.2,602.0 L967.7,602.0 L978.2,602.0" fill="none" stroke="#fff" stroke-width="3" stroke-linejoin="round" stroke-linecap="butt"/>
<path d="M756.7,564.6 L767.2,569.9 L777.8,576.2 L788.4,581.5 L798.9,585.8 L809.5,590.0 L820.0,593.9 L830.6,597.2 L841.1,599.3 L851.7,600.5 L862.2,601.3 L872.8,601.7 L883.3,601.9 L893.9,602.0 L904.4,602.0 L915.0,602.0 L925.5,602.0 L936.1,602.0 L946.6,602.0 L957.2,602.0 L967.7,602.0 L978.2,602.0" fill="none" stroke="#180d16" stroke-width="1.8" stroke-linejoin="round" stroke-linecap="butt"/>
<path d="M704.0,538.6 L714.5,538.3 L725.1,553.0 L735.6,557.9 L746.2,566.7 L756.7,571.4 L767.2,576.5 L777.8,581.4 L788.4,587.8 L798.9,590.7 L809.5,593.7 L820.0,596.6 L830.6,598.8 L841.1,600.2 L851.7,601.1 L862.2,601.6 L872.8,601.8 L883.3,602.0 L893.9,602.0 L904.4,602.0 L915.0,602.0 L925.5,602.0 L936.1,602.0 L946.6,602.0 L957.2,602.0 L967.7,602.0 L978.2,602.0" fill="none" stroke="#fff" stroke-width="3" stroke-linejoin="round" stroke-linecap="butt"/>
<path d="M704.0,538.6 L714.5,538.3 L725.1,553.0 L735.6,557.9 L746.2,566.7 L756.7,571.4 L767.2,576.5 L777.8,581.4 L788.4,587.8 L798.9,590.7 L809.5,593.7 L820.0,596.6 L830.6,598.8 L841.1,600.2 L851.7,601.1 L862.2,601.6 L872.8,601.8 L883.3,602.0 L893.9,602.0 L904.4,602.0 L915.0,602.0 L925.5,602.0 L936.1,602.0 L946.6,602.0 L957.2,602.0 L967.7,602.0 L978.2,602.0" fill="none" stroke="#26172b" stroke-width="1.8" stroke-linejoin="round" stroke-linecap="butt"/>
<path d="M651.2,510.2 L661.8,515.8 L672.3,524.8 L682.9,533.1 L693.4,541.8 L704.0,551.4 L714.5,551.1 L725.1,559.4 L735.6,566.2 L746.2,572.6 L756.7,579.3 L767.2,583.0 L777.8,586.1 L788.4,589.5 L798.9,592.0 L809.5,594.7 L820.0,597.3 L830.6,599.2 L841.1,600.4 L851.7,601.2 L862.2,601.6 L872.8,601.9 L883.3,602.0 L893.9,602.0 L904.4,602.0 L915.0,602.0 L925.5,602.0 L936.1,602.0 L946.6,602.0 L957.2,602.0 L967.7,602.0 L978.2,602.0" fill="none" stroke="#fff" stroke-width="3" stroke-linejoin="round" stroke-linecap="butt"/>
<path d="M651.2,510.2 L661.8,515.8 L672.3,524.8 L682.9,533.1 L693.4,541.8 L704.0,551.4 L714.5,551.1 L725.1,559.4 L735.6,566.2 L746.2,572.6 L756.7,579.3 L767.2,583.0 L777.8,586.1 L788.4,589.5 L798.9,592.0 L809.5,594.7 L820.0,597.3 L830.6,599.2 L841.1,600.4 L851.7,601.2 L862.2,601.6 L872.8,601.9 L883.3,602.0 L893.9,602.0 L904.4,602.0 L915.0,602.0 L925.5,602.0 L936.1,602.0 L946.6,602.0 L957.2,602.0 L967.7,602.0 L978.2,602.0" fill="none" stroke="#312142" stroke-width="1.8" stroke-linejoin="round" stroke-linecap="butt"/>
<path d="M598.5,563.5 L609.0,537.3 L619.6,531.0 L630.1,526.7 L640.7,526.7 L651.2,528.5 L661.8,533.4 L672.3,538.3 L682.9,543.2 L693.4,547.1 L704.0,550.5 L714.5,554.5 L725.1,561.8 L735.6,568.7 L746.2,578.5 L756.7,582.1 L767.2,585.4 L777.8,588.2 L788.4,591.1 L798.9,593.4 L809.5,595.7 L820.0,597.9 L830.6,599.6 L841.1,600.7 L851.7,601.4 L862.2,601.7 L872.8,601.9 L883.3,602.0 L893.9,602.0 L904.4,602.0 L915.0,602.0 L925.5,602.0 L936.1,602.0 L946.6,602.0 L957.2,602.0 L967.7,602.0 L978.2,602.0" fill="none" stroke="#fff" stroke-width="3" stroke-linejoin="round" stroke-linecap="butt"/>
<path d="M598.5,563.5 L609.0,537.3 L619.6,531.0 L630.1,526.7 L640.7,526.7 L651.2,528.5 L661.8,533.4 L672.3,538.3 L682.9,543.2 L693.4,547.1 L704.0,550.5 L714.5,554.5 L725.1,561.8 L735.6,568.7 L746.2,578.5 L756.7,582.1 L767.2,585.4 L777.8,588.2 L788.4,591.1 L798.9,593.4 L809.5,595.7 L820.0,597.9 L830.6,599.6 L841.1,600.7 L851.7,601.4 L862.2,601.7 L872.8,601.9 L883.3,602.0 L893.9,602.0 L904.4,602.0 L915.0,602.0 L925.5,602.0 L936.1,602.0 L946.6,602.0 L957.2,602.0 L967.7,602.0 L978.2,602.0" fill="none" stroke="#3a2c58" stroke-width="1.8" stroke-linejoin="round" stroke-linecap="butt"/>
<path d="M524.6,602.0 L535.1,601.9 L545.7,601.8 L556.2,600.5 L566.8,597.1 L577.4,589.8 L587.9,576.5 L598.5,557.9 L609.0,535.4 L619.6,528.0 L630.1,523.6 L640.7,522.9 L651.2,526.0 L661.8,531.0 L672.3,535.9 L682.9,540.8 L693.4,546.6 L704.0,553.0 L714.5,558.9 L725.1,566.7 L735.6,573.6 L746.2,581.7 L756.7,585.0 L767.2,587.9 L777.8,590.3 L788.4,592.8 L798.9,594.7 L809.5,596.7 L820.0,598.6 L830.6,600.1 L841.1,600.9 L851.7,601.5 L862.2,601.8 L872.8,601.9 L883.3,602.0 L893.9,602.0 L904.4,602.0 L915.0,602.0 L925.5,602.0 L936.1,602.0 L946.6,602.0 L957.2,602.0 L967.7,602.0 L978.2,602.0" fill="none" stroke="#fff" stroke-width="3" stroke-linejoin="round" stroke-linecap="butt"/>
<path d="M524.6,602.0 L535.1,601.9 L545.7,601.8 L556.2,600.5 L566.8,597.1 L577.4,589.8 L587.9,576.5 L598.5,557.9 L609.0,535.4 L619.6,528.0 L630.1,523.6 L640.7,522.9 L651.2,526.0 L661.8,531.0 L672.3,535.9 L682.9,540.8 L693.4,546.6 L704.0,553.0 L714.5,558.9 L725.1,566.7 L735.6,573.6 L746.2,581.7 L756.7,585.0 L767.2,587.9 L777.8,590.3 L788.4,592.8 L798.9,594.7 L809.5,596.7 L820.0,598.6 L830.6,600.1 L841.1,600.9 L851.7,601.5 L862.2,601.8 L872.8,601.9 L883.3,602.0 L893.9,602.0 L904.4,602.0 L915.0,602.0 L925.5,602.0 L936.1,602.0 L946.6,602.0 L957.2,602.0 L967.7,602.0 L978.2,602.0" fill="none" stroke="#3f3770" stroke-width="1.8" stroke-linejoin="round" stroke-linecap="butt"/>
<path d="M524.6,602.0 L535.1,602.0 L545.7,601.7 L556.2,600.5 L566.8,596.6 L577.4,588.3 L587.9,573.6 L598.5,553.0 L609.0,531.0 L619.6,520.4 L630.1,520.4 L640.7,525.4 L651.2,532.3 L661.8,539.3 L672.3,544.2 L682.9,548.1 L693.4,551.5 L704.0,555.9 L714.5,561.3 L725.1,568.7 L735.6,575.0 L746.2,582.4 L756.7,585.5 L767.2,588.3 L777.8,590.7 L788.4,593.1 L798.9,595.0 L809.5,596.9 L820.0,598.7 L830.6,600.1 L841.1,601.0 L851.7,601.5 L862.2,601.8 L872.8,601.9 L883.3,602.0 L893.9,602.0 L904.4,602.0 L915.0,602.0 L925.5,602.0 L936.1,602.0 L946.6,602.0 L957.2,602.0 L967.7,602.0 L978.2,602.0" fill="none" stroke="#fff" stroke-width="3" stroke-linejoin="round" stroke-linecap="butt"/>
<path d="M524.6,602.0 L535.1,602.0 L545.7,601.7 L556.2,600.5 L566.8,596.6 L577.4,588.3 L587.9,573.6 L598.5,553.0 L609.0,531.0 L619.6,520.4 L630.1,520.4 L640.7,525.4 L651.2,532.3 L661.8,539.3 L672.3,544.2 L682.9,548.1 L693.4,551.5 L704.0,555.9 L714.5,561.3 L725.1,568.7 L735.6,575.0 L746.2,582.4 L756.7,585.5 L767.2,588.3 L777.8,590.7 L788.4,593.1 L798.9,595.0 L809.5,596.9 L820.0,598.7 L830.6,600.1 L841.1,601.0 L851.7,601.5 L862.2,601.8 L872.8,601.9 L883.3,602.0 L893.9,602.0 L904.4,602.0 L915.0,602.0 L925.5,602.0 L936.1,602.0 L946.6,602.0 L957.2,602.0 L967.7,602.0 L978.2,602.0" fill="none" stroke="#414387" stroke-width="1.8" stroke-linejoin="round" stroke-linecap="butt"/>
<path d="M524.6,602.0 L535.1,602.0 L545.7,601.7 L556.2,600.0 L566.8,595.6 L577.4,586.3 L587.9,570.1 L598.5,548.1 L609.0,527.5 L619.6,517.7 L630.1,518.7 L640.7,524.6 L651.2,531.0 L661.8,536.8 L672.3,541.2 L682.9,544.2 L693.4,548.1 L704.0,553.0 L714.5,559.4 L725.1,568.7 L735.6,576.5 L746.2,584.9 L756.7,587.8 L767.2,590.3 L777.8,592.4 L788.4,594.5 L798.9,596.1 L809.5,597.7 L820.0,599.2 L830.6,600.5 L841.1,601.2 L851.7,601.6 L862.2,601.8 L872.8,601.9 L883.3,602.0 L893.9,602.0 L904.4,602.0 L915.0,602.0 L925.5,602.0 L936.1,602.0 L946.6,602.0 L957.2,602.0 L967.7,602.0 L978.2,602.0" fill="none" stroke="#fff" stroke-width="3" stroke-linejoin="round" stroke-linecap="butt"/>
<path d="M524.6,602.0 L535.1,602.0 L545.7,601.7 L556.2,600.0 L566.8,595.6 L577.4,586.3 L587.9,570.1 L598.5,548.1 L609.0,527.5 L619.6,517.7 L630.1,518.7 L640.7,524.6 L651.2,531.0 L661.8,536.8 L672.3,541.2 L682.9,544.2 L693.4,548.1 L704.0,553.0 L714.5,559.4 L725.1,568.7 L735.6,576.5 L746.2,584.9 L756.7,587.8 L767.2,590.3 L777.8,592.4 L788.4,594.5 L798.9,596.1 L809.5,597.7 L820.0,599.2 L830.6,600.5 L841.1,601.2 L851.7,601.6 L862.2,601.8 L872.8,601.9 L883.3,602.0 L893.9,602.0 L904.4,602.0 L915.0,602.0 L925.5,602.0 L936.1,602.0 L946.6,602.0 L957.2,602.0 L967.7,602.0 L978.2,602.0" fill="none" stroke="#3c5397" stroke-width="1.8" stroke-linejoin="round" stroke-linecap="butt"/>
<path d="M524.6,602.0 L535.1,602.0 L545.7,601.6 L556.2,599.5 L566.8,594.6 L577.4,584.9 L587.9,567.7 L598.5,544.2 L609.0,523.6 L619.6,515.1 L630.1,515.4 L640.7,521.6 L651.2,527.3 L661.8,533.4 L672.3,537.3 L682.9,539.3 L693.4,545.6 L704.0,553.0 L714.5,561.3 L725.1,572.6 L735.6,581.4 L746.2,589.7 L756.7,591.9 L767.2,593.8 L777.8,595.5 L788.4,596.9 L798.9,598.1 L809.5,599.2 L820.0,600.2 L830.6,601.0 L841.1,601.5 L851.7,601.8 L862.2,601.9 L872.8,602.0 L883.3,602.0 L893.9,602.0 L904.4,602.0 L915.0,602.0 L925.5,602.0 L936.1,602.0 L946.6,602.0 L957.2,602.0 L967.7,602.0 L978.2,602.0" fill="none" stroke="#fff" stroke-width="3" stroke-linejoin="round" stroke-linecap="butt"/>
<path d="M524.6,602.0 L535.1,602.0 L545.7,601.6 L556.2,599.5 L566.8,594.6 L577.4,584.9 L587.9,567.7 L598.5,544.2 L609.0,523.6 L619.6,515.1 L630.1,515.4 L640.7,521.6 L651.2,527.3 L661.8,533.4 L672.3,537.3 L682.9,539.3 L693.4,545.6 L704.0,553.0 L714.5,561.3 L725.1,572.6 L735.6,581.4 L746.2,589.7 L756.7,591.9 L767.2,593.8 L777.8,595.5 L788.4,596.9 L798.9,598.1 L809.5,599.2 L820.0,600.2 L830.6,601.0 L841.1,601.5 L851.7,601.8 L862.2,601.9 L872.8,602.0 L883.3,602.0 L893.9,602.0 L904.4,602.0 L915.0,602.0 L925.5,602.0 L936.1,602.0 L946.6,602.0 L957.2,602.0 L967.7,602.0 L978.2,602.0" fill="none" stroke="#37649e" stroke-width="1.8" stroke-linejoin="round" stroke-linecap="butt"/>
<path d="M524.6,602.0 L535.1,602.0 L545.7,601.5 L556.2,599.1 L566.8,593.7 L577.4,583.4 L587.9,565.2 L598.5,539.3 L609.0,520.4 L619.6,512.0 L630.1,512.7 L640.7,521.4 L651.2,533.9 L661.8,545.6 L672.3,557.4 L682.9,566.2 L693.4,571.6 L704.0,576.0 L714.5,580.0 L725.1,583.4 L735.6,586.8 L746.2,591.4 L756.7,593.4 L767.2,595.1 L777.8,596.6 L788.4,597.8 L798.9,598.8 L809.5,599.7 L820.0,600.5 L830.6,601.3 L841.1,601.7 L851.7,601.9 L862.2,602.0 L872.8,602.0 L883.3,602.0 L893.9,602.0 L904.4,602.0 L915.0,602.0 L925.5,602.0 L936.1,602.0 L946.6,602.0" fill="none" stroke="#fff" stroke-width="3" stroke-linejoin="round" stroke-linecap="butt"/>
<path d="M524.6,602.0 L535.1,602.0 L545.7,601.5 L556.2,599.1 L566.8,593.7 L577.4,583.4 L587.9,565.2 L598.5,539.3 L609.0,520.4 L619.6,512.0 L630.1,512.7 L640.7,521.4 L651.2,533.9 L661.8,545.6 L672.3,557.4 L682.9,566.2 L693.4,571.6 L704.0,576.0 L714.5,580.0 L725.1,583.4 L735.6,586.8 L746.2,591.4 L756.7,593.4 L767.2,595.1 L777.8,596.6 L788.4,597.8 L798.9,598.8 L809.5,599.7 L820.0,600.5 L830.6,601.3 L841.1,601.7 L851.7,601.9 L862.2,602.0 L872.8,602.0 L883.3,602.0 L893.9,602.0 L904.4,602.0 L915.0,602.0 L925.5,602.0 L936.1,602.0 L946.6,602.0" fill="none" stroke="#3573a1" stroke-width="1.8" stroke-linejoin="round" stroke-linecap="butt"/>
<path d="M524.6,602.0 L535.1,602.0 L545.7,601.4 L556.2,598.6 L566.8,592.2 L577.4,580.0 L587.9,558.9 L598.5,531.0 L609.0,519.8 L619.6,523.6 L630.1,537.3 L640.7,548.6 L651.2,553.5 L661.8,557.3 L672.3,562.3 L682.9,566.0 L693.4,569.7 L704.0,572.6 L714.5,575.0 L725.1,577.5 L735.6,580.0 L746.2,583.7 L756.7,586.6 L767.2,589.3 L777.8,591.6 L788.4,593.8 L798.9,595.6 L809.5,597.3 L820.0,599.0 L830.6,600.3 L841.1,601.1 L851.7,601.6 L862.2,601.8 L872.8,601.9 L883.3,602.0 L893.9,602.0" fill="none" stroke="#fff" stroke-width="3" stroke-linejoin="round" stroke-linecap="butt"/>
<path d="M524.6,602.0 L535.1,602.0 L545.7,601.4 L556.2,598.6 L566.8,592.2 L577.4,580.0 L587.9,558.9 L598.5,531.0 L609.0,519.8 L619.6,523.6 L630.1,537.3 L640.7,548.6 L651.2,553.5 L661.8,557.3 L672.3,562.3 L682.9,566.0 L693.4,569.7 L704.0,572.6 L714.5,575.0 L725.1,577.5 L735.6,580.0 L746.2,583.7 L756.7,586.6 L767.2,589.3 L777.8,591.6 L788.4,593.8 L798.9,595.6 L809.5,597.3 L820.0,599.0 L830.6,600.3 L841.1,601.1 L851.7,601.6 L862.2,601.8 L872.8,601.9 L883.3,602.0 L893.9,602.0" fill="none" stroke="#3483a5" stroke-width="1.8" stroke-linejoin="round" stroke-linecap="butt"/>
<path d="M524.6,602.0 L535.1,602.0 L545.7,601.4 L556.2,598.6 L566.8,592.2 L577.4,580.9 L587.9,564.8 L598.5,546.7 L609.0,542.9 L619.6,548.0 L630.1,552.3 L640.7,556.7 L651.2,558.5 L661.8,559.9 L672.3,561.0 L682.9,561.9 L693.4,562.3 L704.0,563.3 L714.5,565.2 L725.1,568.7 L735.6,572.6 L746.2,576.8 L756.7,580.6 L767.2,584.1 L777.8,587.1 L788.4,590.2 L798.9,592.7 L809.5,595.2 L820.0,597.6 L830.6,599.4 L841.1,600.6" fill="none" stroke="#fff" stroke-width="3" stroke-linejoin="round" stroke-linecap="butt"/>
<path d="M524.6,602.0 L535.1,602.0 L545.7,601.4 L556.2,598.6 L566.8,592.2 L577.4,580.9 L587.9,564.8 L598.5,546.7 L609.0,542.9 L619.6,548.0 L630.1,552.3 L640.7,556.7 L651.2,558.5 L661.8,559.9 L672.3,561.0 L682.9,561.9 L693.4,562.3 L704.0,563.3 L714.5,565.2 L725.1,568.7 L735.6,572.6 L746.2,576.8 L756.7,580.6 L767.2,584.1 L777.8,587.1 L788.4,590.2 L798.9,592.7 L809.5,595.2 L820.0,597.6 L830.6,599.4 L841.1,600.6" fill="none" stroke="#3491a8" stroke-width="1.8" stroke-linejoin="round" stroke-linecap="butt"/>
<path d="M524.6,602.0 L535.1,602.0 L545.7,601.5 L556.2,599.1 L566.8,593.7 L577.4,584.4 L587.9,571.1 L598.5,562.3 L609.0,556.7 L619.6,553.5 L630.1,553.0 L640.7,553.0 L651.2,551.7 L661.8,549.8 L672.3,549.8 L682.9,550.5 L693.4,551.0 L704.0,551.8 L714.5,553.0 L725.1,559.4 L735.6,565.1 L746.2,569.9 L756.7,574.7 L767.2,579.0 L777.8,582.6 L788.4,586.7" fill="none" stroke="#fff" stroke-width="3" stroke-linejoin="round" stroke-linecap="butt"/>
<path d="M524.6,602.0 L535.1,602.0 L545.7,601.5 L556.2,599.1 L566.8,593.7 L577.4,584.4 L587.9,571.1 L598.5,562.3 L609.0,556.7 L619.6,553.5 L630.1,553.0 L640.7,553.0 L651.2,551.7 L661.8,549.8 L672.3,549.8 L682.9,550.5 L693.4,551.0 L704.0,551.8 L714.5,553.0 L725.1,559.4 L735.6,565.1 L746.2,569.9 L756.7,574.7 L767.2,579.0 L777.8,582.6 L788.4,586.7" fill="none" stroke="#35a1ab" stroke-width="1.8" stroke-linejoin="round" stroke-linecap="butt"/>
<path d="M524.6,602.0 L535.1,602.0 L545.7,601.5 L556.2,599.1 L566.8,594.2 L577.4,585.3 L587.9,573.6 L598.5,566.0 L609.0,561.0 L619.6,558.5 L630.1,556.7 L640.7,554.2 L651.2,551.0 L661.8,548.6 L672.3,549.1 L682.9,550.1 L693.4,551.0 L704.0,552.0 L714.5,553.5 L725.1,557.4 L735.6,561.3" fill="none" stroke="#fff" stroke-width="3" stroke-linejoin="round" stroke-linecap="butt"/>
<path d="M524.6,602.0 L535.1,602.0 L545.7,601.5 L556.2,599.1 L566.8,594.2 L577.4,585.3 L587.9,573.6 L598.5,566.0 L609.0,561.0 L619.6,558.5 L630.1,556.7 L640.7,554.2 L651.2,551.0 L661.8,548.6 L672.3,549.1 L682.9,550.1 L693.4,551.0 L704.0,552.0 L714.5,553.5 L725.1,557.4 L735.6,561.3" fill="none" stroke="#3cb1ad" stroke-width="1.8" stroke-linejoin="round" stroke-linecap="butt"/>
<path d="M524.6,602.0 L535.1,602.0 L545.7,601.5 L556.2,599.5 L566.8,594.6 L577.4,586.3 L587.9,575.0 L598.5,568.2 L609.0,563.8 L619.6,560.8 L630.1,557.9 L640.7,554.5 L651.2,550.5 L661.8,547.9 L672.3,550.1 L682.9,554.2" fill="none" stroke="#fff" stroke-width="3" stroke-linejoin="round" stroke-linecap="butt"/>
<path d="M524.6,602.0 L535.1,602.0 L545.7,601.5 L556.2,599.5 L566.8,594.6 L577.4,586.3 L587.9,575.0 L598.5,568.2 L609.0,563.8 L619.6,560.8 L630.1,557.9 L640.7,554.5 L651.2,550.5 L661.8,547.9 L672.3,550.1 L682.9,554.2" fill="none" stroke="#47bfad" stroke-width="1.8" stroke-linejoin="round" stroke-linecap="butt"/>
<path d="M524.6,602.0 L535.1,602.0 L545.7,601.6 L556.2,600.0 L566.8,596.1 L577.4,588.8 L587.9,577.5 L598.5,570.4 L609.0,566.5 L619.6,564.2 L630.1,562.9" fill="none" stroke="#fff" stroke-width="3" stroke-linejoin="round" stroke-linecap="butt"/>
<path d="M524.6,602.0 L535.1,602.0 L545.7,601.6 L556.2,600.0 L566.8,596.1 L577.4,588.8 L587.9,577.5 L598.5,570.4 L609.0,566.5 L619.6,564.2 L630.1,562.9" fill="none" stroke="#5ecdad" stroke-width="1.8" stroke-linejoin="round" stroke-linecap="butt"/>
<path d="M524.6,602.0 L535.1,602.0 L545.7,601.8 L556.2,600.5 L566.8,598.1 L577.4,594.2" fill="none" stroke="#fff" stroke-width="3" stroke-linejoin="round" stroke-linecap="butt"/>
<path d="M524.6,602.0 L535.1,602.0 L545.7,601.8 L556.2,600.5 L566.8,598.1 L577.4,594.2" fill="none" stroke="#82d8b0" stroke-width="1.8" stroke-linejoin="round" stroke-linecap="butt"/>
<path d="M524.6,602.0 L535.1,602.0" fill="none" stroke="#fff" stroke-width="3" stroke-linejoin="round" stroke-linecap="butt"/>
<path d="M524.6,602.0 L535.1,602.0" fill="none" stroke="#a9e1bd" stroke-width="1.8" stroke-linejoin="round" stroke-linecap="butt"/>
</svg>
<div class="abs" id="src"><b>Data source:</b> Human Fertility Database (2024)</div>
<div class="abs" id="url">OurWorldinData.org/fertility-rate | CC BY</div>
<div class="abs" id="rule"></div>
<div class="abs" id="notes"><b>1. Age-specific fertility rate</b> The fertility rate (number of births per woman) in a specific age group.<br>For example, if 80 babies are born to 1,000 women aged 25–29 in a year, the age-specific fertility rate at ages 25–29 would be 80 per 1,000 women,<br>or 0.08 per woman.<br>This can be calculated for women born in the same year (where it is known as the cohort age-specific fertility rate) or for a given year (where it is the<br>period age-specific fertility rate).</div>
</body></html>
